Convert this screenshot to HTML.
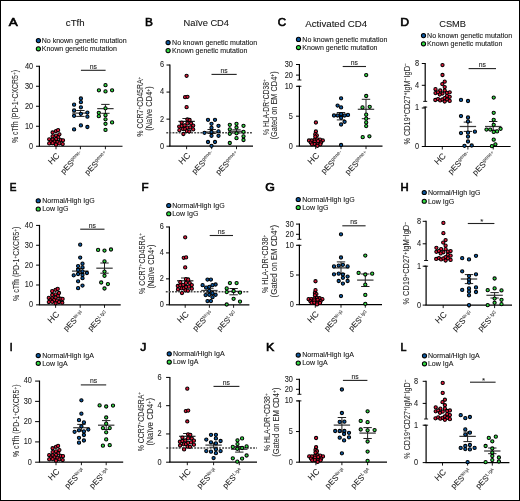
<!DOCTYPE html>
<html><head><meta charset="utf-8"><style>
html,body{margin:0;padding:0;background:#fff;}
svg{display:block;will-change:transform;font-family:"Liberation Sans", sans-serif;}
text{stroke:#222;stroke-width:0.08px;}
</style></head><body>
<svg width="520" height="501" viewBox="0 0 520 501">
<rect x="0" y="0" width="520" height="501" fill="#fff"/>
<text x="8.70" y="26.00" font-size="11.2" text-anchor="start" font-weight="normal" fill="#000" style="stroke:#000;stroke-width:0.6px" textLength="9.0" lengthAdjust="spacingAndGlyphs">A</text>
<text x="75.25" y="26.40" font-size="9.4" text-anchor="middle" font-weight="normal" fill="#111" textLength="18.8" lengthAdjust="spacingAndGlyphs">cTfh</text>
<circle cx="38.40" cy="40.60" r="2.1" fill="#0c58a0" stroke="#000" stroke-width="1.05"/>
<circle cx="38.40" cy="48.75" r="2.1" fill="#33dd44" stroke="#000" stroke-width="1.05"/>
<text x="41.70" y="42.90" font-size="7.05" text-anchor="start" font-weight="normal" fill="#111" >No known genetic mutation</text>
<text x="41.70" y="51.05" font-size="7.05" text-anchor="start" font-weight="normal" fill="#111" >Known genetic mutation</text>
<line x1="39.40" y1="65.75" x2="39.40" y2="146.25" stroke="#000" stroke-width="1.2" />
<line x1="38.80" y1="146.25" x2="122.50" y2="146.25" stroke="#000" stroke-width="1.2" />
<line x1="36.00" y1="66.25" x2="39.40" y2="66.25" stroke="#000" stroke-width="1.0" />
<text x="33.20" y="68.65" font-size="8.4" text-anchor="end" fill="#222" textLength="8.20" lengthAdjust="spacingAndGlyphs">40</text>
<line x1="36.00" y1="86.25" x2="39.40" y2="86.25" stroke="#000" stroke-width="1.0" />
<text x="33.20" y="88.65" font-size="8.4" text-anchor="end" fill="#222" textLength="8.20" lengthAdjust="spacingAndGlyphs">30</text>
<line x1="36.00" y1="106.25" x2="39.40" y2="106.25" stroke="#000" stroke-width="1.0" />
<text x="33.20" y="108.65" font-size="8.4" text-anchor="end" fill="#222" textLength="8.20" lengthAdjust="spacingAndGlyphs">20</text>
<line x1="36.00" y1="126.25" x2="39.40" y2="126.25" stroke="#000" stroke-width="1.0" />
<text x="33.20" y="128.65" font-size="8.4" text-anchor="end" fill="#222" textLength="8.20" lengthAdjust="spacingAndGlyphs">10</text>
<line x1="36.00" y1="146.25" x2="39.40" y2="146.25" stroke="#000" stroke-width="1.0" />
<text x="33.20" y="148.65" font-size="8.4" text-anchor="end" fill="#222" textLength="4.10" lengthAdjust="spacingAndGlyphs">0</text>
<line x1="56.00" y1="146.25" x2="56.00" y2="149.25" stroke="#000" stroke-width="0.9" />
<line x1="80.40" y1="146.25" x2="80.40" y2="149.25" stroke="#000" stroke-width="0.9" />
<line x1="105.40" y1="146.25" x2="105.40" y2="149.25" stroke="#000" stroke-width="0.9" />
<text transform="translate(60.20,156.25) rotate(-45)" font-size="8.6" text-anchor="end" fill="#222">HC</text>
<text transform="translate(83.40,154.75) rotate(-45)" font-size="8.0" text-anchor="end" fill="#222">pES<tspan font-size="5" dy="-3.2" fill="#555">gene-</tspan></text>
<text transform="translate(108.40,154.75) rotate(-45)" font-size="8.0" text-anchor="end" fill="#222">pES<tspan font-size="5" dy="-3.2" fill="#555">gene+</tspan></text>
<text transform="translate(18.30,106.50) rotate(-90)" font-size="8.8" text-anchor="middle" fill="#333" textLength="73.0" lengthAdjust="spacingAndGlyphs">% cTfh (PD-1<tspan font-size="6" dy="-2.6">+</tspan><tspan dy="2.6">CXCR5</tspan><tspan font-size="6" dy="-2.6">+</tspan><tspan dy="2.6">)</tspan></text>
<line x1="80.90" y1="70.30" x2="105.60" y2="70.30" stroke="#222" stroke-width="1.1" />
<text x="93.25" y="68.60" font-size="6.8" text-anchor="middle" font-weight="normal" fill="#222" >ns</text>
<circle cx="56.00" cy="131.10" r="1.62" fill="#e3193b" stroke="#000" stroke-width="1.05"/>
<circle cx="58.10" cy="130.20" r="1.62" fill="#e3193b" stroke="#000" stroke-width="1.05"/>
<circle cx="52.60" cy="132.50" r="1.62" fill="#e3193b" stroke="#000" stroke-width="1.05"/>
<circle cx="59.40" cy="134.30" r="1.62" fill="#e3193b" stroke="#000" stroke-width="1.05"/>
<circle cx="56.00" cy="135.60" r="1.62" fill="#e3193b" stroke="#000" stroke-width="1.05"/>
<circle cx="52.60" cy="136.30" r="1.62" fill="#e3193b" stroke="#000" stroke-width="1.05"/>
<circle cx="58.30" cy="137.40" r="1.62" fill="#e3193b" stroke="#000" stroke-width="1.05"/>
<circle cx="49.20" cy="139.30" r="1.62" fill="#e3193b" stroke="#000" stroke-width="1.05"/>
<circle cx="52.60" cy="139.60" r="1.62" fill="#e3193b" stroke="#000" stroke-width="1.05"/>
<circle cx="56.00" cy="139.00" r="1.62" fill="#e3193b" stroke="#000" stroke-width="1.05"/>
<circle cx="60.90" cy="140.10" r="1.62" fill="#e3193b" stroke="#000" stroke-width="1.05"/>
<circle cx="63.00" cy="140.30" r="1.62" fill="#e3193b" stroke="#000" stroke-width="1.05"/>
<circle cx="50.80" cy="141.60" r="1.62" fill="#e3193b" stroke="#000" stroke-width="1.05"/>
<circle cx="54.40" cy="141.50" r="1.62" fill="#e3193b" stroke="#000" stroke-width="1.05"/>
<circle cx="57.50" cy="142.00" r="1.62" fill="#e3193b" stroke="#000" stroke-width="1.05"/>
<circle cx="49.20" cy="143.40" r="1.62" fill="#e3193b" stroke="#000" stroke-width="1.05"/>
<circle cx="52.60" cy="143.20" r="1.62" fill="#e3193b" stroke="#000" stroke-width="1.05"/>
<circle cx="56.00" cy="144.70" r="1.62" fill="#e3193b" stroke="#000" stroke-width="1.05"/>
<circle cx="59.40" cy="143.40" r="1.62" fill="#e3193b" stroke="#000" stroke-width="1.05"/>
<circle cx="62.70" cy="144.10" r="1.62" fill="#e3193b" stroke="#000" stroke-width="1.05"/>
<line x1="72.20" y1="113.10" x2="88.60" y2="113.10" stroke="#3c3c3c" stroke-width="1.25" />
<line x1="76.20" y1="110.50" x2="84.60" y2="110.50" stroke="#222" stroke-width="1.0" />
<line x1="76.20" y1="116.40" x2="84.60" y2="116.40" stroke="#222" stroke-width="1.0" />
<line x1="80.40" y1="110.50" x2="80.40" y2="116.40" stroke="#222" stroke-width="1.0" />
<line x1="97.20" y1="108.60" x2="113.60" y2="108.60" stroke="#3c3c3c" stroke-width="1.25" />
<line x1="101.20" y1="104.40" x2="109.60" y2="104.40" stroke="#222" stroke-width="1.0" />
<line x1="101.20" y1="113.30" x2="109.60" y2="113.30" stroke="#222" stroke-width="1.0" />
<line x1="105.40" y1="104.40" x2="105.40" y2="113.30" stroke="#222" stroke-width="1.0" />
<circle cx="80.90" cy="98.50" r="1.62" fill="#0c58a0" stroke="#000" stroke-width="1.05"/>
<circle cx="80.90" cy="102.20" r="1.62" fill="#0c58a0" stroke="#000" stroke-width="1.05"/>
<circle cx="74.10" cy="104.70" r="1.62" fill="#0c58a0" stroke="#000" stroke-width="1.05"/>
<circle cx="80.90" cy="107.30" r="1.62" fill="#0c58a0" stroke="#000" stroke-width="1.05"/>
<circle cx="74.10" cy="110.50" r="1.62" fill="#0c58a0" stroke="#000" stroke-width="1.05"/>
<circle cx="80.90" cy="113.80" r="1.62" fill="#0c58a0" stroke="#000" stroke-width="1.05"/>
<circle cx="87.40" cy="112.60" r="1.62" fill="#0c58a0" stroke="#000" stroke-width="1.05"/>
<circle cx="74.10" cy="115.80" r="1.62" fill="#0c58a0" stroke="#000" stroke-width="1.05"/>
<circle cx="87.40" cy="116.70" r="1.62" fill="#0c58a0" stroke="#000" stroke-width="1.05"/>
<circle cx="80.90" cy="125.40" r="1.62" fill="#0c58a0" stroke="#000" stroke-width="1.05"/>
<circle cx="87.40" cy="127.00" r="1.62" fill="#0c58a0" stroke="#000" stroke-width="1.05"/>
<circle cx="74.10" cy="129.40" r="1.62" fill="#0c58a0" stroke="#000" stroke-width="1.05"/>
<circle cx="105.50" cy="85.20" r="1.62" fill="#33dd44" stroke="#000" stroke-width="1.05"/>
<circle cx="98.90" cy="90.30" r="1.62" fill="#33dd44" stroke="#000" stroke-width="1.05"/>
<circle cx="105.50" cy="91.40" r="1.62" fill="#33dd44" stroke="#000" stroke-width="1.05"/>
<circle cx="112.10" cy="90.30" r="1.62" fill="#33dd44" stroke="#000" stroke-width="1.05"/>
<circle cx="105.50" cy="108.30" r="1.62" fill="#33dd44" stroke="#000" stroke-width="1.05"/>
<circle cx="98.80" cy="112.80" r="1.62" fill="#33dd44" stroke="#000" stroke-width="1.05"/>
<circle cx="105.50" cy="115.20" r="1.62" fill="#33dd44" stroke="#000" stroke-width="1.05"/>
<circle cx="98.80" cy="116.20" r="1.62" fill="#33dd44" stroke="#000" stroke-width="1.05"/>
<circle cx="105.50" cy="119.30" r="1.62" fill="#33dd44" stroke="#000" stroke-width="1.05"/>
<circle cx="112.10" cy="122.40" r="1.62" fill="#33dd44" stroke="#000" stroke-width="1.05"/>
<circle cx="105.50" cy="123.80" r="1.62" fill="#33dd44" stroke="#000" stroke-width="1.05"/>
<circle cx="105.50" cy="129.90" r="1.62" fill="#33dd44" stroke="#000" stroke-width="1.05"/>
<text x="144.95" y="26.00" font-size="11.2" text-anchor="start" font-weight="normal" fill="#000" style="stroke:#000;stroke-width:0.6px" textLength="7.9" lengthAdjust="spacingAndGlyphs">B</text>
<text x="206.25" y="26.25" font-size="9.4" text-anchor="middle" font-weight="normal" fill="#111" textLength="45.5" lengthAdjust="spacingAndGlyphs">Na&#239;ve CD4</text>
<circle cx="168.10" cy="42.50" r="2.1" fill="#0c58a0" stroke="#000" stroke-width="1.05"/>
<circle cx="168.10" cy="50.60" r="2.1" fill="#33dd44" stroke="#000" stroke-width="1.05"/>
<text x="172.10" y="44.80" font-size="7.05" text-anchor="start" font-weight="normal" fill="#111" >No known genetic mutation</text>
<text x="172.10" y="52.90" font-size="7.05" text-anchor="start" font-weight="normal" fill="#111" >Known genetic mutation</text>
<line x1="169.90" y1="64.50" x2="169.90" y2="146.20" stroke="#000" stroke-width="1.2" />
<line x1="169.30" y1="146.20" x2="253.00" y2="146.20" stroke="#000" stroke-width="1.2" />
<line x1="166.50" y1="65.02" x2="169.90" y2="65.02" stroke="#000" stroke-width="1.0" />
<text x="164.20" y="67.42" font-size="8.4" text-anchor="end" fill="#222" textLength="4.10" lengthAdjust="spacingAndGlyphs">6</text>
<line x1="166.50" y1="92.08" x2="169.90" y2="92.08" stroke="#000" stroke-width="1.0" />
<text x="164.20" y="94.48" font-size="8.4" text-anchor="end" fill="#222" textLength="4.10" lengthAdjust="spacingAndGlyphs">4</text>
<line x1="166.50" y1="119.14" x2="169.90" y2="119.14" stroke="#000" stroke-width="1.0" />
<text x="164.20" y="121.54" font-size="8.4" text-anchor="end" fill="#222" textLength="4.10" lengthAdjust="spacingAndGlyphs">2</text>
<line x1="166.50" y1="146.20" x2="169.90" y2="146.20" stroke="#000" stroke-width="1.0" />
<text x="164.20" y="148.60" font-size="8.4" text-anchor="end" fill="#222" textLength="4.10" lengthAdjust="spacingAndGlyphs">0</text>
<line x1="186.60" y1="146.20" x2="186.60" y2="149.20" stroke="#000" stroke-width="0.9" />
<line x1="211.70" y1="146.20" x2="211.70" y2="149.20" stroke="#000" stroke-width="0.9" />
<line x1="236.50" y1="146.20" x2="236.50" y2="149.20" stroke="#000" stroke-width="0.9" />
<text transform="translate(190.80,156.20) rotate(-45)" font-size="8.6" text-anchor="end" fill="#222">HC</text>
<text transform="translate(214.70,154.70) rotate(-45)" font-size="8.0" text-anchor="end" fill="#222">pES<tspan font-size="5" dy="-3.2" fill="#555">gene-</tspan></text>
<text transform="translate(239.50,154.70) rotate(-45)" font-size="8.0" text-anchor="end" fill="#222">pES<tspan font-size="5" dy="-3.2" fill="#555">gene+</tspan></text>
<text transform="translate(143.10,106.65) rotate(-90)" font-size="8.8" text-anchor="middle" fill="#333" textLength="60.1" lengthAdjust="spacingAndGlyphs">% CCR7<tspan font-size="6" dy="-2.6">+</tspan><tspan dy="2.6">CD45RA</tspan><tspan font-size="6" dy="-2.6">+</tspan><tspan dy="2.6"></tspan></text>
<text transform="translate(152.30,108.50) rotate(-90)" font-size="8.8" text-anchor="middle" fill="#333" textLength="44.6" lengthAdjust="spacingAndGlyphs">(Na&#239;ve CD4<tspan font-size="6" dy="-2.6">+</tspan><tspan dy="2.6">)</tspan></text>
<line x1="166.30" y1="132.67" x2="253.00" y2="132.67" stroke="#4a4a4a" stroke-width="1.5" stroke-dasharray="1.9,1.2"/>
<line x1="211.50" y1="74.40" x2="236.70" y2="74.40" stroke="#222" stroke-width="1.1" />
<text x="224.10" y="72.70" font-size="6.8" text-anchor="middle" font-weight="normal" fill="#222" >ns</text>
<line x1="178.40" y1="121.40" x2="194.80" y2="121.40" stroke="#222" stroke-width="1.2" />
<line x1="182.40" y1="118.50" x2="190.80" y2="118.50" stroke="#222" stroke-width="1.0" />
<line x1="186.60" y1="118.50" x2="186.60" y2="124.50" stroke="#222" stroke-width="1.0" />
<circle cx="186.60" cy="75.80" r="1.62" fill="#e3193b" stroke="#000" stroke-width="1.05"/>
<circle cx="185.10" cy="97.20" r="1.62" fill="#e3193b" stroke="#000" stroke-width="1.05"/>
<circle cx="187.50" cy="96.80" r="1.62" fill="#e3193b" stroke="#000" stroke-width="1.05"/>
<circle cx="186.60" cy="107.20" r="1.62" fill="#e3193b" stroke="#000" stroke-width="1.05"/>
<circle cx="187.40" cy="119.50" r="1.62" fill="#e3193b" stroke="#000" stroke-width="1.05"/>
<circle cx="189.60" cy="120.00" r="1.62" fill="#e3193b" stroke="#000" stroke-width="1.05"/>
<circle cx="181.70" cy="122.60" r="1.62" fill="#e3193b" stroke="#000" stroke-width="1.05"/>
<circle cx="187.40" cy="123.40" r="1.62" fill="#e3193b" stroke="#000" stroke-width="1.05"/>
<circle cx="191.10" cy="123.50" r="1.62" fill="#e3193b" stroke="#000" stroke-width="1.05"/>
<circle cx="179.20" cy="126.60" r="1.62" fill="#e3193b" stroke="#000" stroke-width="1.05"/>
<circle cx="181.70" cy="125.90" r="1.62" fill="#e3193b" stroke="#000" stroke-width="1.05"/>
<circle cx="184.60" cy="125.40" r="1.62" fill="#e3193b" stroke="#000" stroke-width="1.05"/>
<circle cx="193.20" cy="125.60" r="1.62" fill="#e3193b" stroke="#000" stroke-width="1.05"/>
<circle cx="183.10" cy="129.10" r="1.62" fill="#e3193b" stroke="#000" stroke-width="1.05"/>
<circle cx="185.20" cy="128.90" r="1.62" fill="#e3193b" stroke="#000" stroke-width="1.05"/>
<circle cx="187.50" cy="127.60" r="1.62" fill="#e3193b" stroke="#000" stroke-width="1.05"/>
<circle cx="190.30" cy="127.30" r="1.62" fill="#e3193b" stroke="#000" stroke-width="1.05"/>
<circle cx="179.40" cy="130.20" r="1.62" fill="#e3193b" stroke="#000" stroke-width="1.05"/>
<circle cx="193.20" cy="129.40" r="1.62" fill="#e3193b" stroke="#000" stroke-width="1.05"/>
<circle cx="186.90" cy="131.20" r="1.62" fill="#e3193b" stroke="#000" stroke-width="1.05"/>
<circle cx="189.30" cy="131.50" r="1.62" fill="#e3193b" stroke="#000" stroke-width="1.05"/>
<circle cx="183.40" cy="134.00" r="1.62" fill="#e3193b" stroke="#000" stroke-width="1.05"/>
<line x1="203.50" y1="132.00" x2="219.90" y2="132.00" stroke="#3c3c3c" stroke-width="1.25" />
<line x1="207.50" y1="129.50" x2="215.90" y2="129.50" stroke="#222" stroke-width="1.0" />
<line x1="207.50" y1="133.50" x2="215.90" y2="133.50" stroke="#222" stroke-width="1.0" />
<line x1="211.70" y1="129.50" x2="211.70" y2="133.50" stroke="#222" stroke-width="1.0" />
<line x1="228.30" y1="131.30" x2="244.70" y2="131.30" stroke="#3c3c3c" stroke-width="1.25" />
<line x1="232.30" y1="129.80" x2="240.70" y2="129.80" stroke="#222" stroke-width="1.0" />
<line x1="232.30" y1="133.00" x2="240.70" y2="133.00" stroke="#222" stroke-width="1.0" />
<line x1="236.50" y1="129.80" x2="236.50" y2="133.00" stroke="#222" stroke-width="1.0" />
<circle cx="208.00" cy="119.80" r="1.62" fill="#0c58a0" stroke="#000" stroke-width="1.05"/>
<circle cx="215.00" cy="119.80" r="1.62" fill="#0c58a0" stroke="#000" stroke-width="1.05"/>
<circle cx="211.50" cy="123.80" r="1.62" fill="#0c58a0" stroke="#000" stroke-width="1.05"/>
<circle cx="218.50" cy="125.80" r="1.62" fill="#0c58a0" stroke="#000" stroke-width="1.05"/>
<circle cx="211.50" cy="127.80" r="1.62" fill="#0c58a0" stroke="#000" stroke-width="1.05"/>
<circle cx="211.50" cy="132.00" r="1.62" fill="#0c58a0" stroke="#000" stroke-width="1.05"/>
<circle cx="204.50" cy="132.80" r="1.62" fill="#0c58a0" stroke="#000" stroke-width="1.05"/>
<circle cx="218.50" cy="131.30" r="1.62" fill="#0c58a0" stroke="#000" stroke-width="1.05"/>
<circle cx="211.50" cy="135.80" r="1.62" fill="#0c58a0" stroke="#000" stroke-width="1.05"/>
<circle cx="218.50" cy="135.80" r="1.62" fill="#0c58a0" stroke="#000" stroke-width="1.05"/>
<circle cx="208.00" cy="142.00" r="1.62" fill="#0c58a0" stroke="#000" stroke-width="1.05"/>
<circle cx="215.00" cy="142.00" r="1.62" fill="#0c58a0" stroke="#000" stroke-width="1.05"/>
<circle cx="211.50" cy="145.80" r="1.62" fill="#0c58a0" stroke="#000" stroke-width="1.05"/>
<circle cx="229.80" cy="124.80" r="1.62" fill="#33dd44" stroke="#000" stroke-width="1.05"/>
<circle cx="236.50" cy="123.80" r="1.62" fill="#33dd44" stroke="#000" stroke-width="1.05"/>
<circle cx="243.50" cy="125.80" r="1.62" fill="#33dd44" stroke="#000" stroke-width="1.05"/>
<circle cx="236.50" cy="127.50" r="1.62" fill="#33dd44" stroke="#000" stroke-width="1.05"/>
<circle cx="229.80" cy="129.30" r="1.62" fill="#33dd44" stroke="#000" stroke-width="1.05"/>
<circle cx="243.50" cy="131.80" r="1.62" fill="#33dd44" stroke="#000" stroke-width="1.05"/>
<circle cx="229.80" cy="133.80" r="1.62" fill="#33dd44" stroke="#000" stroke-width="1.05"/>
<circle cx="236.50" cy="133.30" r="1.62" fill="#33dd44" stroke="#000" stroke-width="1.05"/>
<circle cx="243.50" cy="136.30" r="1.62" fill="#33dd44" stroke="#000" stroke-width="1.05"/>
<circle cx="236.50" cy="138.20" r="1.62" fill="#33dd44" stroke="#000" stroke-width="1.05"/>
<circle cx="243.50" cy="140.00" r="1.62" fill="#33dd44" stroke="#000" stroke-width="1.05"/>
<circle cx="229.80" cy="143.00" r="1.62" fill="#33dd44" stroke="#000" stroke-width="1.05"/>
<text x="277.80" y="26.00" font-size="11.2" text-anchor="start" font-weight="normal" fill="#000" style="stroke:#000;stroke-width:0.6px" textLength="8.4" lengthAdjust="spacingAndGlyphs">C</text>
<text x="336.25" y="26.50" font-size="9.4" text-anchor="middle" font-weight="normal" fill="#111" textLength="62" lengthAdjust="spacingAndGlyphs">Activated CD4</text>
<circle cx="298.50" cy="39.40" r="2.1" fill="#0c58a0" stroke="#000" stroke-width="1.05"/>
<circle cx="298.50" cy="47.50" r="2.1" fill="#33dd44" stroke="#000" stroke-width="1.05"/>
<text x="302.30" y="41.70" font-size="7.05" text-anchor="start" font-weight="normal" fill="#111" >No known genetic mutation</text>
<text x="302.30" y="49.80" font-size="7.05" text-anchor="start" font-weight="normal" fill="#111" >Known genetic mutation</text>
<line x1="299.40" y1="64.10" x2="299.40" y2="80.00" stroke="#000" stroke-width="1.2" />
<line x1="299.40" y1="85.80" x2="299.40" y2="146.10" stroke="#000" stroke-width="1.2" />
<line x1="298.80" y1="146.10" x2="382.50" y2="146.10" stroke="#000" stroke-width="1.2" />
<line x1="296.00" y1="64.50" x2="299.40" y2="64.50" stroke="#000" stroke-width="1.0" />
<text x="292.90" y="66.90" font-size="8.4" text-anchor="end" fill="#222" textLength="8.20" lengthAdjust="spacingAndGlyphs">30</text>
<line x1="296.00" y1="75.10" x2="299.40" y2="75.10" stroke="#000" stroke-width="1.0" />
<text x="292.90" y="77.50" font-size="8.4" text-anchor="end" fill="#222" textLength="8.20" lengthAdjust="spacingAndGlyphs">20</text>
<line x1="296.00" y1="86.30" x2="299.40" y2="86.30" stroke="#000" stroke-width="1.0" />
<text x="292.90" y="88.70" font-size="8.4" text-anchor="end" fill="#222" textLength="8.20" lengthAdjust="spacingAndGlyphs">10</text>
<line x1="296.00" y1="116.20" x2="299.40" y2="116.20" stroke="#000" stroke-width="1.0" />
<text x="292.90" y="118.60" font-size="8.4" text-anchor="end" fill="#222" textLength="4.10" lengthAdjust="spacingAndGlyphs">5</text>
<line x1="296.00" y1="146.10" x2="299.40" y2="146.10" stroke="#000" stroke-width="1.0" />
<text x="292.90" y="148.50" font-size="8.4" text-anchor="end" fill="#222" textLength="4.10" lengthAdjust="spacingAndGlyphs">0</text>
<line x1="297.40" y1="80.00" x2="301.40" y2="80.00" stroke="#000" stroke-width="0.9" />
<line x1="297.40" y1="86.30" x2="301.40" y2="86.30" stroke="#000" stroke-width="0.9" />
<line x1="315.70" y1="146.10" x2="315.70" y2="149.10" stroke="#000" stroke-width="0.9" />
<line x1="341.00" y1="146.10" x2="341.00" y2="149.10" stroke="#000" stroke-width="0.9" />
<line x1="366.00" y1="146.10" x2="366.00" y2="149.10" stroke="#000" stroke-width="0.9" />
<text transform="translate(319.90,156.10) rotate(-45)" font-size="8.6" text-anchor="end" fill="#222">HC</text>
<text transform="translate(344.00,154.60) rotate(-45)" font-size="8.0" text-anchor="end" fill="#222">pES<tspan font-size="5" dy="-3.2" fill="#555">gene-</tspan></text>
<text transform="translate(369.00,154.60) rotate(-45)" font-size="8.0" text-anchor="end" fill="#222">pES<tspan font-size="5" dy="-3.2" fill="#555">gene+</tspan></text>
<text transform="translate(268.60,107.15) rotate(-90)" font-size="8.8" text-anchor="middle" fill="#333" textLength="55.5" lengthAdjust="spacingAndGlyphs">% HLA-DR<tspan font-size="6" dy="-2.6">+</tspan><tspan dy="2.6">CD38</tspan><tspan font-size="6" dy="-2.6">+</tspan><tspan dy="2.6"></tspan></text>
<text transform="translate(276.90,105.35) rotate(-90)" font-size="8.8" text-anchor="middle" fill="#333" textLength="68.1" lengthAdjust="spacingAndGlyphs">(Gated on EM CD4<tspan font-size="6" dy="-2.6">+</tspan><tspan dy="2.6">)</tspan></text>
<line x1="342.70" y1="66.50" x2="366.00" y2="66.50" stroke="#222" stroke-width="1.1" />
<text x="354.35" y="64.80" font-size="6.8" text-anchor="middle" font-weight="normal" fill="#222" >ns</text>
<circle cx="315.90" cy="122.50" r="1.62" fill="#e3193b" stroke="#000" stroke-width="1.05"/>
<circle cx="315.90" cy="131.50" r="1.62" fill="#e3193b" stroke="#000" stroke-width="1.05"/>
<circle cx="315.30" cy="134.20" r="1.62" fill="#e3193b" stroke="#000" stroke-width="1.05"/>
<circle cx="316.80" cy="135.40" r="1.62" fill="#e3193b" stroke="#000" stroke-width="1.05"/>
<circle cx="315.30" cy="136.70" r="1.62" fill="#e3193b" stroke="#000" stroke-width="1.05"/>
<circle cx="309.00" cy="140.50" r="1.62" fill="#e3193b" stroke="#000" stroke-width="1.05"/>
<circle cx="311.70" cy="140.50" r="1.62" fill="#e3193b" stroke="#000" stroke-width="1.05"/>
<circle cx="314.70" cy="139.90" r="1.62" fill="#e3193b" stroke="#000" stroke-width="1.05"/>
<circle cx="317.40" cy="139.30" r="1.62" fill="#e3193b" stroke="#000" stroke-width="1.05"/>
<circle cx="320.00" cy="139.60" r="1.62" fill="#e3193b" stroke="#000" stroke-width="1.05"/>
<circle cx="322.80" cy="140.50" r="1.62" fill="#e3193b" stroke="#000" stroke-width="1.05"/>
<circle cx="310.80" cy="142.60" r="1.62" fill="#e3193b" stroke="#000" stroke-width="1.05"/>
<circle cx="314.70" cy="141.70" r="1.62" fill="#e3193b" stroke="#000" stroke-width="1.05"/>
<circle cx="318.00" cy="141.10" r="1.62" fill="#e3193b" stroke="#000" stroke-width="1.05"/>
<circle cx="321.00" cy="142.60" r="1.62" fill="#e3193b" stroke="#000" stroke-width="1.05"/>
<circle cx="312.00" cy="144.30" r="1.62" fill="#e3193b" stroke="#000" stroke-width="1.05"/>
<circle cx="314.70" cy="144.00" r="1.62" fill="#e3193b" stroke="#000" stroke-width="1.05"/>
<circle cx="317.70" cy="144.30" r="1.62" fill="#e3193b" stroke="#000" stroke-width="1.05"/>
<circle cx="320.40" cy="144.30" r="1.62" fill="#e3193b" stroke="#000" stroke-width="1.05"/>
<circle cx="317.40" cy="145.80" r="1.62" fill="#e3193b" stroke="#000" stroke-width="1.05"/>
<line x1="332.80" y1="116.00" x2="349.20" y2="116.00" stroke="#3c3c3c" stroke-width="1.25" />
<line x1="336.80" y1="112.50" x2="345.20" y2="112.50" stroke="#222" stroke-width="1.0" />
<line x1="336.80" y1="119.90" x2="345.20" y2="119.90" stroke="#222" stroke-width="1.0" />
<line x1="341.00" y1="112.50" x2="341.00" y2="119.90" stroke="#222" stroke-width="1.0" />
<line x1="357.80" y1="109.30" x2="374.20" y2="109.30" stroke="#3c3c3c" stroke-width="1.25" />
<line x1="361.80" y1="99.30" x2="370.20" y2="99.30" stroke="#222" stroke-width="1.0" />
<line x1="361.80" y1="118.70" x2="370.20" y2="118.70" stroke="#222" stroke-width="1.0" />
<line x1="366.00" y1="99.30" x2="366.00" y2="118.70" stroke="#222" stroke-width="1.0" />
<circle cx="341.10" cy="98.30" r="1.62" fill="#0c58a0" stroke="#000" stroke-width="1.05"/>
<circle cx="337.60" cy="105.60" r="1.62" fill="#0c58a0" stroke="#000" stroke-width="1.05"/>
<circle cx="341.10" cy="107.40" r="1.62" fill="#0c58a0" stroke="#000" stroke-width="1.05"/>
<circle cx="341.10" cy="116.00" r="1.62" fill="#0c58a0" stroke="#000" stroke-width="1.05"/>
<circle cx="334.00" cy="115.50" r="1.62" fill="#0c58a0" stroke="#000" stroke-width="1.05"/>
<circle cx="337.60" cy="115.50" r="1.62" fill="#0c58a0" stroke="#000" stroke-width="1.05"/>
<circle cx="341.10" cy="114.10" r="1.62" fill="#0c58a0" stroke="#000" stroke-width="1.05"/>
<circle cx="344.60" cy="115.50" r="1.62" fill="#0c58a0" stroke="#000" stroke-width="1.05"/>
<circle cx="348.00" cy="114.90" r="1.62" fill="#0c58a0" stroke="#000" stroke-width="1.05"/>
<circle cx="341.10" cy="117.80" r="1.62" fill="#0c58a0" stroke="#000" stroke-width="1.05"/>
<circle cx="344.60" cy="121.80" r="1.62" fill="#0c58a0" stroke="#000" stroke-width="1.05"/>
<circle cx="341.10" cy="124.50" r="1.62" fill="#0c58a0" stroke="#000" stroke-width="1.05"/>
<circle cx="341.10" cy="145.00" r="1.62" fill="#0c58a0" stroke="#000" stroke-width="1.05"/>
<circle cx="366.20" cy="75.10" r="1.62" fill="#33dd44" stroke="#000" stroke-width="1.05"/>
<circle cx="366.20" cy="96.00" r="1.62" fill="#33dd44" stroke="#000" stroke-width="1.05"/>
<circle cx="362.50" cy="107.40" r="1.62" fill="#33dd44" stroke="#000" stroke-width="1.05"/>
<circle cx="369.70" cy="106.80" r="1.62" fill="#33dd44" stroke="#000" stroke-width="1.05"/>
<circle cx="366.20" cy="114.70" r="1.62" fill="#33dd44" stroke="#000" stroke-width="1.05"/>
<circle cx="366.20" cy="118.70" r="1.62" fill="#33dd44" stroke="#000" stroke-width="1.05"/>
<circle cx="366.20" cy="122.40" r="1.62" fill="#33dd44" stroke="#000" stroke-width="1.05"/>
<circle cx="366.20" cy="126.10" r="1.62" fill="#33dd44" stroke="#000" stroke-width="1.05"/>
<circle cx="362.70" cy="137.20" r="1.62" fill="#33dd44" stroke="#000" stroke-width="1.05"/>
<circle cx="369.40" cy="136.30" r="1.62" fill="#33dd44" stroke="#000" stroke-width="1.05"/>
<text x="400.30" y="26.00" font-size="11.2" text-anchor="start" font-weight="normal" fill="#000" style="stroke:#000;stroke-width:0.6px" textLength="8.8" lengthAdjust="spacingAndGlyphs">D</text>
<text x="452.60" y="26.60" font-size="9.4" text-anchor="middle" font-weight="normal" fill="#111" textLength="26.8" lengthAdjust="spacingAndGlyphs">CSMB</text>
<circle cx="423.50" cy="35.60" r="2.1" fill="#0c58a0" stroke="#000" stroke-width="1.05"/>
<circle cx="423.50" cy="43.75" r="2.1" fill="#33dd44" stroke="#000" stroke-width="1.05"/>
<text x="427.10" y="37.90" font-size="7.05" text-anchor="start" font-weight="normal" fill="#111" >No known genetic mutation</text>
<text x="427.10" y="46.05" font-size="7.05" text-anchor="start" font-weight="normal" fill="#111" >Known genetic mutation</text>
<line x1="425.20" y1="63.00" x2="425.20" y2="101.40" stroke="#000" stroke-width="1.2" />
<line x1="425.20" y1="106.60" x2="425.20" y2="146.50" stroke="#000" stroke-width="1.2" />
<line x1="424.60" y1="146.50" x2="510.60" y2="146.50" stroke="#000" stroke-width="1.2" />
<line x1="421.80" y1="63.50" x2="425.20" y2="63.50" stroke="#000" stroke-width="1.0" />
<text x="419.20" y="65.90" font-size="8.4" text-anchor="end" fill="#222" textLength="4.10" lengthAdjust="spacingAndGlyphs">8</text>
<line x1="421.80" y1="85.30" x2="425.20" y2="85.30" stroke="#000" stroke-width="1.0" />
<text x="419.20" y="87.70" font-size="8.4" text-anchor="end" fill="#222" textLength="4.10" lengthAdjust="spacingAndGlyphs">4</text>
<line x1="421.80" y1="108.00" x2="425.20" y2="108.00" stroke="#000" stroke-width="1.0" />
<text x="419.20" y="110.40" font-size="8.4" text-anchor="end" fill="#222" textLength="4.10" lengthAdjust="spacingAndGlyphs">1</text>
<line x1="421.80" y1="146.50" x2="425.20" y2="146.50" stroke="#000" stroke-width="1.0" />
<text x="419.20" y="148.90" font-size="8.4" text-anchor="end" fill="#222" textLength="4.10" lengthAdjust="spacingAndGlyphs">0</text>
<line x1="423.20" y1="101.40" x2="427.20" y2="101.40" stroke="#000" stroke-width="0.9" />
<line x1="423.20" y1="107.10" x2="427.20" y2="107.10" stroke="#000" stroke-width="0.9" />
<line x1="442.30" y1="146.50" x2="442.30" y2="149.50" stroke="#000" stroke-width="0.9" />
<line x1="467.90" y1="146.50" x2="467.90" y2="149.50" stroke="#000" stroke-width="0.9" />
<line x1="493.20" y1="146.50" x2="493.20" y2="149.50" stroke="#000" stroke-width="0.9" />
<text transform="translate(446.50,156.50) rotate(-45)" font-size="8.6" text-anchor="end" fill="#222">HC</text>
<text transform="translate(470.90,155.00) rotate(-45)" font-size="8.0" text-anchor="end" fill="#222">pES<tspan font-size="5" dy="-3.2" fill="#555">gene-</tspan></text>
<text transform="translate(496.20,155.00) rotate(-45)" font-size="8.0" text-anchor="end" fill="#222">pES<tspan font-size="5" dy="-3.2" fill="#555">gene+</tspan></text>
<text transform="translate(409.80,103.85) rotate(-90)" font-size="8.8" text-anchor="middle" fill="#333" textLength="81.5" lengthAdjust="spacingAndGlyphs">% CD19<tspan font-size="6" dy="-2.6">+</tspan><tspan dy="2.6">CD27</tspan><tspan font-size="6" dy="-2.6">+</tspan><tspan dy="2.6">IgM</tspan><tspan font-size="6" dy="-2.6">&#8722;</tspan><tspan dy="2.6">IgD</tspan><tspan font-size="6" dy="-2.6">&#8722;</tspan><tspan dy="2.6"></tspan></text>
<line x1="468.60" y1="68.60" x2="496.00" y2="68.60" stroke="#222" stroke-width="1.1" />
<text x="482.30" y="66.90" font-size="6.8" text-anchor="middle" font-weight="normal" fill="#222" >ns</text>
<circle cx="442.50" cy="65.10" r="1.62" fill="#e3193b" stroke="#000" stroke-width="1.05"/>
<circle cx="442.50" cy="75.00" r="1.62" fill="#e3193b" stroke="#000" stroke-width="1.05"/>
<circle cx="444.70" cy="81.70" r="1.62" fill="#e3193b" stroke="#000" stroke-width="1.05"/>
<circle cx="442.30" cy="84.10" r="1.62" fill="#e3193b" stroke="#000" stroke-width="1.05"/>
<circle cx="444.70" cy="87.10" r="1.62" fill="#e3193b" stroke="#000" stroke-width="1.05"/>
<circle cx="435.50" cy="89.20" r="1.62" fill="#e3193b" stroke="#000" stroke-width="1.05"/>
<circle cx="440.20" cy="90.50" r="1.62" fill="#e3193b" stroke="#000" stroke-width="1.05"/>
<circle cx="444.70" cy="90.50" r="1.62" fill="#e3193b" stroke="#000" stroke-width="1.05"/>
<circle cx="435.50" cy="93.10" r="1.62" fill="#e3193b" stroke="#000" stroke-width="1.05"/>
<circle cx="438.00" cy="92.30" r="1.62" fill="#e3193b" stroke="#000" stroke-width="1.05"/>
<circle cx="442.50" cy="93.50" r="1.62" fill="#e3193b" stroke="#000" stroke-width="1.05"/>
<circle cx="447.00" cy="92.80" r="1.62" fill="#e3193b" stroke="#000" stroke-width="1.05"/>
<circle cx="449.70" cy="92.30" r="1.62" fill="#e3193b" stroke="#000" stroke-width="1.05"/>
<circle cx="439.80" cy="94.60" r="1.62" fill="#e3193b" stroke="#000" stroke-width="1.05"/>
<circle cx="447.00" cy="95.90" r="1.62" fill="#e3193b" stroke="#000" stroke-width="1.05"/>
<circle cx="449.70" cy="96.80" r="1.62" fill="#e3193b" stroke="#000" stroke-width="1.05"/>
<circle cx="435.30" cy="100.00" r="1.62" fill="#e3193b" stroke="#000" stroke-width="1.05"/>
<circle cx="438.00" cy="99.10" r="1.62" fill="#e3193b" stroke="#000" stroke-width="1.05"/>
<circle cx="440.20" cy="100.40" r="1.62" fill="#e3193b" stroke="#000" stroke-width="1.05"/>
<circle cx="442.50" cy="99.50" r="1.62" fill="#e3193b" stroke="#000" stroke-width="1.05"/>
<circle cx="444.70" cy="98.20" r="1.62" fill="#e3193b" stroke="#000" stroke-width="1.05"/>
<circle cx="447.00" cy="99.50" r="1.62" fill="#e3193b" stroke="#000" stroke-width="1.05"/>
<circle cx="444.70" cy="101.50" r="1.62" fill="#e3193b" stroke="#000" stroke-width="1.05"/>
<circle cx="449.70" cy="100.90" r="1.62" fill="#e3193b" stroke="#000" stroke-width="1.05"/>
<line x1="459.70" y1="126.50" x2="476.10" y2="126.50" stroke="#3c3c3c" stroke-width="1.25" />
<line x1="463.70" y1="122.10" x2="472.10" y2="122.10" stroke="#222" stroke-width="1.0" />
<line x1="463.70" y1="131.40" x2="472.10" y2="131.40" stroke="#222" stroke-width="1.0" />
<line x1="467.90" y1="122.10" x2="467.90" y2="131.40" stroke="#222" stroke-width="1.0" />
<line x1="485.00" y1="126.50" x2="501.40" y2="126.50" stroke="#3c3c3c" stroke-width="1.25" />
<line x1="489.00" y1="121.50" x2="497.40" y2="121.50" stroke="#222" stroke-width="1.0" />
<line x1="489.00" y1="130.20" x2="497.40" y2="130.20" stroke="#222" stroke-width="1.0" />
<line x1="493.20" y1="121.50" x2="493.20" y2="130.20" stroke="#222" stroke-width="1.0" />
<circle cx="461.00" cy="99.90" r="1.62" fill="#0c58a0" stroke="#000" stroke-width="1.05"/>
<circle cx="468.00" cy="101.00" r="1.62" fill="#0c58a0" stroke="#000" stroke-width="1.05"/>
<circle cx="461.00" cy="116.10" r="1.62" fill="#0c58a0" stroke="#000" stroke-width="1.05"/>
<circle cx="468.00" cy="117.50" r="1.62" fill="#0c58a0" stroke="#000" stroke-width="1.05"/>
<circle cx="468.00" cy="121.50" r="1.62" fill="#0c58a0" stroke="#000" stroke-width="1.05"/>
<circle cx="461.00" cy="133.10" r="1.62" fill="#0c58a0" stroke="#000" stroke-width="1.05"/>
<circle cx="468.00" cy="132.70" r="1.62" fill="#0c58a0" stroke="#000" stroke-width="1.05"/>
<circle cx="474.90" cy="131.70" r="1.62" fill="#0c58a0" stroke="#000" stroke-width="1.05"/>
<circle cx="468.00" cy="136.60" r="1.62" fill="#0c58a0" stroke="#000" stroke-width="1.05"/>
<circle cx="468.00" cy="141.50" r="1.62" fill="#0c58a0" stroke="#000" stroke-width="1.05"/>
<circle cx="464.50" cy="145.80" r="1.62" fill="#0c58a0" stroke="#000" stroke-width="1.05"/>
<circle cx="471.70" cy="145.50" r="1.62" fill="#0c58a0" stroke="#000" stroke-width="1.05"/>
<circle cx="493.70" cy="97.60" r="1.62" fill="#33dd44" stroke="#000" stroke-width="1.05"/>
<circle cx="493.70" cy="112.80" r="1.62" fill="#33dd44" stroke="#000" stroke-width="1.05"/>
<circle cx="493.70" cy="119.80" r="1.62" fill="#33dd44" stroke="#000" stroke-width="1.05"/>
<circle cx="493.70" cy="124.80" r="1.62" fill="#33dd44" stroke="#000" stroke-width="1.05"/>
<circle cx="486.50" cy="129.60" r="1.62" fill="#33dd44" stroke="#000" stroke-width="1.05"/>
<circle cx="490.20" cy="129.60" r="1.62" fill="#33dd44" stroke="#000" stroke-width="1.05"/>
<circle cx="493.70" cy="131.90" r="1.62" fill="#33dd44" stroke="#000" stroke-width="1.05"/>
<circle cx="497.10" cy="131.40" r="1.62" fill="#33dd44" stroke="#000" stroke-width="1.05"/>
<circle cx="500.60" cy="128.80" r="1.62" fill="#33dd44" stroke="#000" stroke-width="1.05"/>
<circle cx="493.70" cy="139.70" r="1.62" fill="#33dd44" stroke="#000" stroke-width="1.05"/>
<circle cx="495.40" cy="144.30" r="1.62" fill="#33dd44" stroke="#000" stroke-width="1.05"/>
<circle cx="491.90" cy="146.20" r="1.62" fill="#33dd44" stroke="#000" stroke-width="1.05"/>
<text x="9.70" y="190.75" font-size="11.2" text-anchor="start" font-weight="normal" fill="#000" style="stroke:#000;stroke-width:0.6px" textLength="6.7" lengthAdjust="spacingAndGlyphs">E</text>
<circle cx="38.25" cy="200.75" r="2.1" fill="#0c58a0" stroke="#000" stroke-width="1.05"/>
<circle cx="38.25" cy="209.00" r="2.1" fill="#33dd44" stroke="#000" stroke-width="1.05"/>
<text x="42.20" y="203.05" font-size="7.05" text-anchor="start" font-weight="normal" fill="#111" >Normal/High IgG</text>
<text x="42.20" y="211.30" font-size="7.05" text-anchor="start" font-weight="normal" fill="#111" >Low IgG</text>
<line x1="39.50" y1="224.90" x2="39.50" y2="304.85" stroke="#000" stroke-width="1.2" />
<line x1="38.90" y1="304.85" x2="120.70" y2="304.85" stroke="#000" stroke-width="1.2" />
<line x1="36.10" y1="225.41" x2="39.50" y2="225.41" stroke="#000" stroke-width="1.0" />
<text x="33.00" y="227.81" font-size="8.4" text-anchor="end" fill="#222" textLength="8.20" lengthAdjust="spacingAndGlyphs">40</text>
<line x1="36.10" y1="245.27" x2="39.50" y2="245.27" stroke="#000" stroke-width="1.0" />
<text x="33.00" y="247.67" font-size="8.4" text-anchor="end" fill="#222" textLength="8.20" lengthAdjust="spacingAndGlyphs">30</text>
<line x1="36.10" y1="265.13" x2="39.50" y2="265.13" stroke="#000" stroke-width="1.0" />
<text x="33.00" y="267.53" font-size="8.4" text-anchor="end" fill="#222" textLength="8.20" lengthAdjust="spacingAndGlyphs">20</text>
<line x1="36.10" y1="284.99" x2="39.50" y2="284.99" stroke="#000" stroke-width="1.0" />
<text x="33.00" y="287.39" font-size="8.4" text-anchor="end" fill="#222" textLength="8.20" lengthAdjust="spacingAndGlyphs">10</text>
<line x1="36.10" y1="304.85" x2="39.50" y2="304.85" stroke="#000" stroke-width="1.0" />
<text x="33.00" y="307.25" font-size="8.4" text-anchor="end" fill="#222" textLength="4.10" lengthAdjust="spacingAndGlyphs">0</text>
<line x1="55.60" y1="304.85" x2="55.60" y2="307.85" stroke="#000" stroke-width="0.9" />
<line x1="80.20" y1="304.85" x2="80.20" y2="307.85" stroke="#000" stroke-width="0.9" />
<line x1="104.50" y1="304.85" x2="104.50" y2="307.85" stroke="#000" stroke-width="0.9" />
<text transform="translate(59.80,314.85) rotate(-45)" font-size="8.6" text-anchor="end" fill="#222">HC</text>
<text transform="translate(84.00,314.15) rotate(-45)" font-size="8.0" text-anchor="end" fill="#222">pES<tspan font-size="4.4" dy="-3.0" fill="#333" textLength="9.5" lengthAdjust="spacingAndGlyphs">N/H IgG</tspan></text>
<text transform="translate(108.30,314.15) rotate(-45)" font-size="8.0" text-anchor="end" fill="#222">pES<tspan font-size="4.4" dy="-3.0" fill="#333" textLength="9.5" lengthAdjust="spacingAndGlyphs">L IgG</tspan></text>
<text transform="translate(19.20,263.80) rotate(-90)" font-size="8.8" text-anchor="middle" fill="#333" textLength="74.4" lengthAdjust="spacingAndGlyphs">% cTfh (PD-1<tspan font-size="6" dy="-2.6">+</tspan><tspan dy="2.6">CXCR5</tspan><tspan font-size="6" dy="-2.6">+</tspan><tspan dy="2.6">)</tspan></text>
<line x1="80.20" y1="229.20" x2="104.50" y2="229.20" stroke="#222" stroke-width="1.1" />
<text x="92.35" y="227.50" font-size="6.8" text-anchor="middle" font-weight="normal" fill="#222" >ns</text>
<circle cx="55.60" cy="289.81" r="1.62" fill="#e3193b" stroke="#000" stroke-width="1.05"/>
<circle cx="57.70" cy="288.91" r="1.62" fill="#e3193b" stroke="#000" stroke-width="1.05"/>
<circle cx="52.20" cy="291.20" r="1.62" fill="#e3193b" stroke="#000" stroke-width="1.05"/>
<circle cx="59.00" cy="292.98" r="1.62" fill="#e3193b" stroke="#000" stroke-width="1.05"/>
<circle cx="55.60" cy="294.27" r="1.62" fill="#e3193b" stroke="#000" stroke-width="1.05"/>
<circle cx="52.20" cy="294.97" r="1.62" fill="#e3193b" stroke="#000" stroke-width="1.05"/>
<circle cx="57.90" cy="296.06" r="1.62" fill="#e3193b" stroke="#000" stroke-width="1.05"/>
<circle cx="48.80" cy="297.95" r="1.62" fill="#e3193b" stroke="#000" stroke-width="1.05"/>
<circle cx="52.20" cy="298.25" r="1.62" fill="#e3193b" stroke="#000" stroke-width="1.05"/>
<circle cx="55.60" cy="297.65" r="1.62" fill="#e3193b" stroke="#000" stroke-width="1.05"/>
<circle cx="60.50" cy="298.74" r="1.62" fill="#e3193b" stroke="#000" stroke-width="1.05"/>
<circle cx="62.60" cy="298.94" r="1.62" fill="#e3193b" stroke="#000" stroke-width="1.05"/>
<circle cx="50.40" cy="300.23" r="1.62" fill="#e3193b" stroke="#000" stroke-width="1.05"/>
<circle cx="54.00" cy="300.13" r="1.62" fill="#e3193b" stroke="#000" stroke-width="1.05"/>
<circle cx="57.10" cy="300.63" r="1.62" fill="#e3193b" stroke="#000" stroke-width="1.05"/>
<circle cx="48.80" cy="302.02" r="1.62" fill="#e3193b" stroke="#000" stroke-width="1.05"/>
<circle cx="52.20" cy="301.82" r="1.62" fill="#e3193b" stroke="#000" stroke-width="1.05"/>
<circle cx="55.60" cy="303.31" r="1.62" fill="#e3193b" stroke="#000" stroke-width="1.05"/>
<circle cx="59.00" cy="302.02" r="1.62" fill="#e3193b" stroke="#000" stroke-width="1.05"/>
<circle cx="62.30" cy="302.72" r="1.62" fill="#e3193b" stroke="#000" stroke-width="1.05"/>
<line x1="72.00" y1="271.10" x2="88.40" y2="271.10" stroke="#3c3c3c" stroke-width="1.25" />
<line x1="76.00" y1="268.50" x2="84.40" y2="268.50" stroke="#222" stroke-width="1.0" />
<line x1="76.00" y1="273.50" x2="84.40" y2="273.50" stroke="#222" stroke-width="1.0" />
<line x1="80.20" y1="268.50" x2="80.20" y2="273.50" stroke="#222" stroke-width="1.0" />
<line x1="96.30" y1="268.20" x2="112.70" y2="268.20" stroke="#3c3c3c" stroke-width="1.25" />
<line x1="100.30" y1="263.00" x2="108.70" y2="263.00" stroke="#222" stroke-width="1.0" />
<line x1="100.30" y1="273.20" x2="108.70" y2="273.20" stroke="#222" stroke-width="1.0" />
<line x1="104.50" y1="263.00" x2="104.50" y2="273.20" stroke="#222" stroke-width="1.0" />
<circle cx="80.20" cy="244.70" r="1.62" fill="#0c58a0" stroke="#000" stroke-width="1.05"/>
<circle cx="80.20" cy="257.60" r="1.62" fill="#0c58a0" stroke="#000" stroke-width="1.05"/>
<circle cx="82.50" cy="263.70" r="1.62" fill="#0c58a0" stroke="#000" stroke-width="1.05"/>
<circle cx="78.10" cy="266.10" r="1.62" fill="#0c58a0" stroke="#000" stroke-width="1.05"/>
<circle cx="82.50" cy="267.30" r="1.62" fill="#0c58a0" stroke="#000" stroke-width="1.05"/>
<circle cx="78.10" cy="269.90" r="1.62" fill="#0c58a0" stroke="#000" stroke-width="1.05"/>
<circle cx="82.50" cy="271.30" r="1.62" fill="#0c58a0" stroke="#000" stroke-width="1.05"/>
<circle cx="73.70" cy="275.30" r="1.62" fill="#0c58a0" stroke="#000" stroke-width="1.05"/>
<circle cx="78.10" cy="274.00" r="1.62" fill="#0c58a0" stroke="#000" stroke-width="1.05"/>
<circle cx="82.50" cy="275.00" r="1.62" fill="#0c58a0" stroke="#000" stroke-width="1.05"/>
<circle cx="86.90" cy="273.00" r="1.62" fill="#0c58a0" stroke="#000" stroke-width="1.05"/>
<circle cx="82.50" cy="278.20" r="1.62" fill="#0c58a0" stroke="#000" stroke-width="1.05"/>
<circle cx="78.10" cy="281.30" r="1.62" fill="#0c58a0" stroke="#000" stroke-width="1.05"/>
<circle cx="82.50" cy="285.60" r="1.62" fill="#0c58a0" stroke="#000" stroke-width="1.05"/>
<circle cx="78.10" cy="288.20" r="1.62" fill="#0c58a0" stroke="#000" stroke-width="1.05"/>
<circle cx="98.10" cy="249.90" r="1.62" fill="#33dd44" stroke="#000" stroke-width="1.05"/>
<circle cx="104.50" cy="250.60" r="1.62" fill="#33dd44" stroke="#000" stroke-width="1.05"/>
<circle cx="111.00" cy="249.50" r="1.62" fill="#33dd44" stroke="#000" stroke-width="1.05"/>
<circle cx="104.50" cy="261.30" r="1.62" fill="#33dd44" stroke="#000" stroke-width="1.05"/>
<circle cx="104.50" cy="271.60" r="1.62" fill="#33dd44" stroke="#000" stroke-width="1.05"/>
<circle cx="104.50" cy="275.80" r="1.62" fill="#33dd44" stroke="#000" stroke-width="1.05"/>
<circle cx="101.20" cy="282.50" r="1.62" fill="#33dd44" stroke="#000" stroke-width="1.05"/>
<circle cx="107.90" cy="284.10" r="1.62" fill="#33dd44" stroke="#000" stroke-width="1.05"/>
<circle cx="104.50" cy="288.50" r="1.62" fill="#33dd44" stroke="#000" stroke-width="1.05"/>
<text x="141.45" y="190.75" font-size="11.2" text-anchor="start" font-weight="normal" fill="#000" style="stroke:#000;stroke-width:0.6px" textLength="7.1" lengthAdjust="spacingAndGlyphs">F</text>
<circle cx="168.75" cy="205.50" r="2.1" fill="#0c58a0" stroke="#000" stroke-width="1.05"/>
<circle cx="168.75" cy="213.75" r="2.1" fill="#33dd44" stroke="#000" stroke-width="1.05"/>
<text x="172.20" y="207.80" font-size="7.05" text-anchor="start" font-weight="normal" fill="#111" >Normal/High IgG</text>
<text x="172.20" y="216.05" font-size="7.05" text-anchor="start" font-weight="normal" fill="#111" >Low IgG</text>
<line x1="169.40" y1="226.50" x2="169.40" y2="304.80" stroke="#000" stroke-width="1.2" />
<line x1="168.80" y1="304.80" x2="249.40" y2="304.80" stroke="#000" stroke-width="1.2" />
<line x1="166.00" y1="226.98" x2="169.40" y2="226.98" stroke="#000" stroke-width="1.0" />
<text x="163.80" y="229.38" font-size="8.4" text-anchor="end" fill="#222" textLength="4.10" lengthAdjust="spacingAndGlyphs">6</text>
<line x1="166.00" y1="252.92" x2="169.40" y2="252.92" stroke="#000" stroke-width="1.0" />
<text x="163.80" y="255.32" font-size="8.4" text-anchor="end" fill="#222" textLength="4.10" lengthAdjust="spacingAndGlyphs">4</text>
<line x1="166.00" y1="278.86" x2="169.40" y2="278.86" stroke="#000" stroke-width="1.0" />
<text x="163.80" y="281.26" font-size="8.4" text-anchor="end" fill="#222" textLength="4.10" lengthAdjust="spacingAndGlyphs">2</text>
<line x1="166.00" y1="304.80" x2="169.40" y2="304.80" stroke="#000" stroke-width="1.0" />
<text x="163.80" y="307.20" font-size="8.4" text-anchor="end" fill="#222" textLength="4.10" lengthAdjust="spacingAndGlyphs">0</text>
<line x1="185.20" y1="304.80" x2="185.20" y2="307.80" stroke="#000" stroke-width="0.9" />
<line x1="209.40" y1="304.80" x2="209.40" y2="307.80" stroke="#000" stroke-width="0.9" />
<line x1="233.60" y1="304.80" x2="233.60" y2="307.80" stroke="#000" stroke-width="0.9" />
<text transform="translate(189.40,314.80) rotate(-45)" font-size="8.6" text-anchor="end" fill="#222">HC</text>
<text transform="translate(213.20,314.10) rotate(-45)" font-size="8.0" text-anchor="end" fill="#222">pES<tspan font-size="4.4" dy="-3.0" fill="#333" textLength="9.5" lengthAdjust="spacingAndGlyphs">N/H IgG</tspan></text>
<text transform="translate(237.40,314.10) rotate(-45)" font-size="8.0" text-anchor="end" fill="#222">pES<tspan font-size="4.4" dy="-3.0" fill="#333" textLength="9.5" lengthAdjust="spacingAndGlyphs">L IgG</tspan></text>
<text transform="translate(144.90,263.40) rotate(-90)" font-size="8.8" text-anchor="middle" fill="#333" textLength="61.0" lengthAdjust="spacingAndGlyphs">% CCR7<tspan font-size="6" dy="-2.6">+</tspan><tspan dy="2.6">CD45RA</tspan><tspan font-size="6" dy="-2.6">+</tspan><tspan dy="2.6"></tspan></text>
<text transform="translate(154.10,266.55) rotate(-90)" font-size="8.8" text-anchor="middle" fill="#333" textLength="43.9" lengthAdjust="spacingAndGlyphs">(Na&#239;ve CD4<tspan font-size="6" dy="-2.6">+</tspan><tspan dy="2.6">)</tspan></text>
<line x1="165.80" y1="291.83" x2="249.40" y2="291.83" stroke="#4a4a4a" stroke-width="1.5" stroke-dasharray="1.9,1.2"/>
<line x1="209.70" y1="235.50" x2="233.00" y2="235.50" stroke="#222" stroke-width="1.1" />
<text x="221.35" y="233.80" font-size="6.8" text-anchor="middle" font-weight="normal" fill="#222" >ns</text>
<line x1="177.00" y1="280.80" x2="193.40" y2="280.80" stroke="#222" stroke-width="1.2" />
<line x1="181.00" y1="278.00" x2="189.40" y2="278.00" stroke="#222" stroke-width="1.0" />
<line x1="185.20" y1="278.00" x2="185.20" y2="283.50" stroke="#222" stroke-width="1.0" />
<circle cx="185.20" cy="237.31" r="1.62" fill="#e3193b" stroke="#000" stroke-width="1.05"/>
<circle cx="183.70" cy="257.83" r="1.62" fill="#e3193b" stroke="#000" stroke-width="1.05"/>
<circle cx="186.10" cy="257.44" r="1.62" fill="#e3193b" stroke="#000" stroke-width="1.05"/>
<circle cx="185.20" cy="267.41" r="1.62" fill="#e3193b" stroke="#000" stroke-width="1.05"/>
<circle cx="186.00" cy="279.21" r="1.62" fill="#e3193b" stroke="#000" stroke-width="1.05"/>
<circle cx="188.20" cy="279.68" r="1.62" fill="#e3193b" stroke="#000" stroke-width="1.05"/>
<circle cx="180.30" cy="282.18" r="1.62" fill="#e3193b" stroke="#000" stroke-width="1.05"/>
<circle cx="186.00" cy="282.94" r="1.62" fill="#e3193b" stroke="#000" stroke-width="1.05"/>
<circle cx="189.70" cy="283.04" r="1.62" fill="#e3193b" stroke="#000" stroke-width="1.05"/>
<circle cx="177.80" cy="286.01" r="1.62" fill="#e3193b" stroke="#000" stroke-width="1.05"/>
<circle cx="180.30" cy="285.34" r="1.62" fill="#e3193b" stroke="#000" stroke-width="1.05"/>
<circle cx="183.20" cy="284.86" r="1.62" fill="#e3193b" stroke="#000" stroke-width="1.05"/>
<circle cx="191.80" cy="285.05" r="1.62" fill="#e3193b" stroke="#000" stroke-width="1.05"/>
<circle cx="181.70" cy="288.41" r="1.62" fill="#e3193b" stroke="#000" stroke-width="1.05"/>
<circle cx="183.80" cy="288.22" r="1.62" fill="#e3193b" stroke="#000" stroke-width="1.05"/>
<circle cx="186.10" cy="286.97" r="1.62" fill="#e3193b" stroke="#000" stroke-width="1.05"/>
<circle cx="188.90" cy="286.68" r="1.62" fill="#e3193b" stroke="#000" stroke-width="1.05"/>
<circle cx="178.00" cy="289.46" r="1.62" fill="#e3193b" stroke="#000" stroke-width="1.05"/>
<circle cx="191.80" cy="288.70" r="1.62" fill="#e3193b" stroke="#000" stroke-width="1.05"/>
<circle cx="185.50" cy="290.42" r="1.62" fill="#e3193b" stroke="#000" stroke-width="1.05"/>
<circle cx="187.90" cy="290.71" r="1.62" fill="#e3193b" stroke="#000" stroke-width="1.05"/>
<circle cx="182.00" cy="293.10" r="1.62" fill="#e3193b" stroke="#000" stroke-width="1.05"/>
<line x1="201.20" y1="290.50" x2="217.60" y2="290.50" stroke="#3c3c3c" stroke-width="1.25" />
<line x1="205.20" y1="288.30" x2="213.60" y2="288.30" stroke="#222" stroke-width="1.0" />
<line x1="205.20" y1="292.80" x2="213.60" y2="292.80" stroke="#222" stroke-width="1.0" />
<line x1="209.40" y1="288.30" x2="209.40" y2="292.80" stroke="#222" stroke-width="1.0" />
<line x1="225.40" y1="291.40" x2="241.80" y2="291.40" stroke="#3c3c3c" stroke-width="1.25" />
<line x1="229.40" y1="288.50" x2="237.80" y2="288.50" stroke="#222" stroke-width="1.0" />
<line x1="229.40" y1="294.80" x2="237.80" y2="294.80" stroke="#222" stroke-width="1.0" />
<line x1="233.60" y1="288.50" x2="233.60" y2="294.80" stroke="#222" stroke-width="1.0" />
<circle cx="207.50" cy="279.60" r="1.62" fill="#0c58a0" stroke="#000" stroke-width="1.05"/>
<circle cx="210.90" cy="279.60" r="1.62" fill="#0c58a0" stroke="#000" stroke-width="1.05"/>
<circle cx="202.60" cy="285.20" r="1.62" fill="#0c58a0" stroke="#000" stroke-width="1.05"/>
<circle cx="215.60" cy="284.50" r="1.62" fill="#0c58a0" stroke="#000" stroke-width="1.05"/>
<circle cx="206.10" cy="287.70" r="1.62" fill="#0c58a0" stroke="#000" stroke-width="1.05"/>
<circle cx="209.30" cy="286.80" r="1.62" fill="#0c58a0" stroke="#000" stroke-width="1.05"/>
<circle cx="212.50" cy="285.20" r="1.62" fill="#0c58a0" stroke="#000" stroke-width="1.05"/>
<circle cx="209.30" cy="290.80" r="1.62" fill="#0c58a0" stroke="#000" stroke-width="1.05"/>
<circle cx="205.60" cy="295.10" r="1.62" fill="#0c58a0" stroke="#000" stroke-width="1.05"/>
<circle cx="209.30" cy="294.80" r="1.62" fill="#0c58a0" stroke="#000" stroke-width="1.05"/>
<circle cx="212.50" cy="293.20" r="1.62" fill="#0c58a0" stroke="#000" stroke-width="1.05"/>
<circle cx="215.60" cy="294.80" r="1.62" fill="#0c58a0" stroke="#000" stroke-width="1.05"/>
<circle cx="212.50" cy="297.20" r="1.62" fill="#0c58a0" stroke="#000" stroke-width="1.05"/>
<circle cx="207.50" cy="301.10" r="1.62" fill="#0c58a0" stroke="#000" stroke-width="1.05"/>
<circle cx="210.90" cy="301.10" r="1.62" fill="#0c58a0" stroke="#000" stroke-width="1.05"/>
<circle cx="229.90" cy="283.10" r="1.62" fill="#33dd44" stroke="#000" stroke-width="1.05"/>
<circle cx="236.60" cy="283.10" r="1.62" fill="#33dd44" stroke="#000" stroke-width="1.05"/>
<circle cx="226.70" cy="288.40" r="1.62" fill="#33dd44" stroke="#000" stroke-width="1.05"/>
<circle cx="226.70" cy="292.10" r="1.62" fill="#33dd44" stroke="#000" stroke-width="1.05"/>
<circle cx="233.60" cy="291.00" r="1.62" fill="#33dd44" stroke="#000" stroke-width="1.05"/>
<circle cx="240.00" cy="292.60" r="1.62" fill="#33dd44" stroke="#000" stroke-width="1.05"/>
<circle cx="233.60" cy="298.80" r="1.62" fill="#33dd44" stroke="#000" stroke-width="1.05"/>
<circle cx="240.00" cy="301.60" r="1.62" fill="#33dd44" stroke="#000" stroke-width="1.05"/>
<circle cx="226.70" cy="304.50" r="1.62" fill="#33dd44" stroke="#000" stroke-width="1.05"/>
<text x="265.20" y="191.00" font-size="11.2" text-anchor="start" font-weight="normal" fill="#000" style="stroke:#000;stroke-width:0.6px" textLength="9.6" lengthAdjust="spacingAndGlyphs">G</text>
<circle cx="298.25" cy="199.50" r="2.1" fill="#0c58a0" stroke="#000" stroke-width="1.05"/>
<circle cx="298.25" cy="207.50" r="2.1" fill="#33dd44" stroke="#000" stroke-width="1.05"/>
<text x="302.20" y="201.80" font-size="7.05" text-anchor="start" font-weight="normal" fill="#111" >Normal/High IgG</text>
<text x="302.20" y="209.80" font-size="7.05" text-anchor="start" font-weight="normal" fill="#111" >Low IgG</text>
<line x1="299.40" y1="223.60" x2="299.40" y2="239.30" stroke="#000" stroke-width="1.2" />
<line x1="299.40" y1="244.80" x2="299.40" y2="304.70" stroke="#000" stroke-width="1.2" />
<line x1="298.80" y1="304.70" x2="382.00" y2="304.70" stroke="#000" stroke-width="1.2" />
<line x1="296.00" y1="224.10" x2="299.40" y2="224.10" stroke="#000" stroke-width="1.0" />
<text x="293.80" y="226.50" font-size="8.4" text-anchor="end" fill="#222" textLength="8.20" lengthAdjust="spacingAndGlyphs">30</text>
<line x1="296.00" y1="234.30" x2="299.40" y2="234.30" stroke="#000" stroke-width="1.0" />
<text x="293.80" y="236.70" font-size="8.4" text-anchor="end" fill="#222" textLength="8.20" lengthAdjust="spacingAndGlyphs">20</text>
<line x1="296.00" y1="245.30" x2="299.40" y2="245.30" stroke="#000" stroke-width="1.0" />
<text x="293.80" y="247.70" font-size="8.4" text-anchor="end" fill="#222" textLength="8.20" lengthAdjust="spacingAndGlyphs">10</text>
<line x1="296.00" y1="275.00" x2="299.40" y2="275.00" stroke="#000" stroke-width="1.0" />
<text x="293.80" y="277.40" font-size="8.4" text-anchor="end" fill="#222" textLength="4.10" lengthAdjust="spacingAndGlyphs">5</text>
<line x1="296.00" y1="304.70" x2="299.40" y2="304.70" stroke="#000" stroke-width="1.0" />
<text x="293.80" y="307.10" font-size="8.4" text-anchor="end" fill="#222" textLength="4.10" lengthAdjust="spacingAndGlyphs">0</text>
<line x1="297.40" y1="239.30" x2="301.40" y2="239.30" stroke="#000" stroke-width="0.9" />
<line x1="297.40" y1="245.30" x2="301.40" y2="245.30" stroke="#000" stroke-width="0.9" />
<line x1="315.30" y1="304.70" x2="315.30" y2="307.70" stroke="#000" stroke-width="0.9" />
<line x1="341.00" y1="304.70" x2="341.00" y2="307.70" stroke="#000" stroke-width="0.9" />
<line x1="365.30" y1="304.70" x2="365.30" y2="307.70" stroke="#000" stroke-width="0.9" />
<text transform="translate(319.50,314.70) rotate(-45)" font-size="8.6" text-anchor="end" fill="#222">HC</text>
<text transform="translate(344.80,314.00) rotate(-45)" font-size="8.0" text-anchor="end" fill="#222">pES<tspan font-size="4.4" dy="-3.0" fill="#333" textLength="9.5" lengthAdjust="spacingAndGlyphs">N/H IgG</tspan></text>
<text transform="translate(369.10,314.00) rotate(-45)" font-size="8.0" text-anchor="end" fill="#222">pES<tspan font-size="4.4" dy="-3.0" fill="#333" textLength="9.5" lengthAdjust="spacingAndGlyphs">L IgG</tspan></text>
<text transform="translate(268.40,263.80) rotate(-90)" font-size="8.8" text-anchor="middle" fill="#333" textLength="58.4" lengthAdjust="spacingAndGlyphs">% HLA-DR<tspan font-size="6" dy="-2.6">+</tspan><tspan dy="2.6">CD38</tspan><tspan font-size="6" dy="-2.6">+</tspan><tspan dy="2.6"></tspan></text>
<text transform="translate(276.70,261.15) rotate(-90)" font-size="8.8" text-anchor="middle" fill="#333" textLength="72.7" lengthAdjust="spacingAndGlyphs">(Gated on EM CD4<tspan font-size="6" dy="-2.6">+</tspan><tspan dy="2.6">)</tspan></text>
<line x1="342.30" y1="225.80" x2="365.60" y2="225.80" stroke="#222" stroke-width="1.1" />
<text x="353.95" y="224.10" font-size="6.8" text-anchor="middle" font-weight="normal" fill="#222" >ns</text>
<circle cx="315.50" cy="281.26" r="1.62" fill="#e3193b" stroke="#000" stroke-width="1.05"/>
<circle cx="315.50" cy="290.20" r="1.62" fill="#e3193b" stroke="#000" stroke-width="1.05"/>
<circle cx="314.90" cy="292.88" r="1.62" fill="#e3193b" stroke="#000" stroke-width="1.05"/>
<circle cx="316.40" cy="294.07" r="1.62" fill="#e3193b" stroke="#000" stroke-width="1.05"/>
<circle cx="314.90" cy="295.36" r="1.62" fill="#e3193b" stroke="#000" stroke-width="1.05"/>
<circle cx="308.60" cy="299.14" r="1.62" fill="#e3193b" stroke="#000" stroke-width="1.05"/>
<circle cx="311.30" cy="299.14" r="1.62" fill="#e3193b" stroke="#000" stroke-width="1.05"/>
<circle cx="314.30" cy="298.54" r="1.62" fill="#e3193b" stroke="#000" stroke-width="1.05"/>
<circle cx="317.00" cy="297.95" r="1.62" fill="#e3193b" stroke="#000" stroke-width="1.05"/>
<circle cx="319.60" cy="298.24" r="1.62" fill="#e3193b" stroke="#000" stroke-width="1.05"/>
<circle cx="322.40" cy="299.14" r="1.62" fill="#e3193b" stroke="#000" stroke-width="1.05"/>
<circle cx="310.40" cy="301.22" r="1.62" fill="#e3193b" stroke="#000" stroke-width="1.05"/>
<circle cx="314.30" cy="300.33" r="1.62" fill="#e3193b" stroke="#000" stroke-width="1.05"/>
<circle cx="317.60" cy="299.73" r="1.62" fill="#e3193b" stroke="#000" stroke-width="1.05"/>
<circle cx="320.60" cy="301.22" r="1.62" fill="#e3193b" stroke="#000" stroke-width="1.05"/>
<circle cx="311.60" cy="302.91" r="1.62" fill="#e3193b" stroke="#000" stroke-width="1.05"/>
<circle cx="314.30" cy="302.61" r="1.62" fill="#e3193b" stroke="#000" stroke-width="1.05"/>
<circle cx="317.30" cy="302.91" r="1.62" fill="#e3193b" stroke="#000" stroke-width="1.05"/>
<circle cx="320.00" cy="302.91" r="1.62" fill="#e3193b" stroke="#000" stroke-width="1.05"/>
<circle cx="317.00" cy="304.40" r="1.62" fill="#e3193b" stroke="#000" stroke-width="1.05"/>
<line x1="332.80" y1="267.90" x2="349.20" y2="267.90" stroke="#3c3c3c" stroke-width="1.25" />
<line x1="336.80" y1="261.90" x2="345.20" y2="261.90" stroke="#222" stroke-width="1.0" />
<line x1="336.80" y1="273.50" x2="345.20" y2="273.50" stroke="#222" stroke-width="1.0" />
<line x1="341.00" y1="261.90" x2="341.00" y2="273.50" stroke="#222" stroke-width="1.0" />
<line x1="357.10" y1="280.10" x2="373.50" y2="280.10" stroke="#3c3c3c" stroke-width="1.25" />
<line x1="361.10" y1="274.00" x2="369.50" y2="274.00" stroke="#222" stroke-width="1.0" />
<line x1="361.10" y1="286.50" x2="369.50" y2="286.50" stroke="#222" stroke-width="1.0" />
<line x1="365.30" y1="274.00" x2="365.30" y2="286.50" stroke="#222" stroke-width="1.0" />
<circle cx="341.00" cy="234.30" r="1.62" fill="#0c58a0" stroke="#000" stroke-width="1.05"/>
<circle cx="341.00" cy="257.50" r="1.62" fill="#0c58a0" stroke="#000" stroke-width="1.05"/>
<circle cx="334.00" cy="266.40" r="1.62" fill="#0c58a0" stroke="#000" stroke-width="1.05"/>
<circle cx="338.70" cy="265.60" r="1.62" fill="#0c58a0" stroke="#000" stroke-width="1.05"/>
<circle cx="342.90" cy="264.80" r="1.62" fill="#0c58a0" stroke="#000" stroke-width="1.05"/>
<circle cx="347.60" cy="266.40" r="1.62" fill="#0c58a0" stroke="#000" stroke-width="1.05"/>
<circle cx="334.00" cy="274.30" r="1.62" fill="#0c58a0" stroke="#000" stroke-width="1.05"/>
<circle cx="338.70" cy="273.70" r="1.62" fill="#0c58a0" stroke="#000" stroke-width="1.05"/>
<circle cx="342.90" cy="274.50" r="1.62" fill="#0c58a0" stroke="#000" stroke-width="1.05"/>
<circle cx="347.60" cy="276.60" r="1.62" fill="#0c58a0" stroke="#000" stroke-width="1.05"/>
<circle cx="342.90" cy="277.80" r="1.62" fill="#0c58a0" stroke="#000" stroke-width="1.05"/>
<circle cx="338.70" cy="281.00" r="1.62" fill="#0c58a0" stroke="#000" stroke-width="1.05"/>
<circle cx="347.60" cy="281.00" r="1.62" fill="#0c58a0" stroke="#000" stroke-width="1.05"/>
<circle cx="342.90" cy="283.60" r="1.62" fill="#0c58a0" stroke="#000" stroke-width="1.05"/>
<circle cx="341.00" cy="296.10" r="1.62" fill="#0c58a0" stroke="#000" stroke-width="1.05"/>
<circle cx="365.30" cy="255.60" r="1.62" fill="#33dd44" stroke="#000" stroke-width="1.05"/>
<circle cx="358.60" cy="272.90" r="1.62" fill="#33dd44" stroke="#000" stroke-width="1.05"/>
<circle cx="365.30" cy="274.50" r="1.62" fill="#33dd44" stroke="#000" stroke-width="1.05"/>
<circle cx="372.20" cy="273.70" r="1.62" fill="#33dd44" stroke="#000" stroke-width="1.05"/>
<circle cx="365.30" cy="284.70" r="1.62" fill="#33dd44" stroke="#000" stroke-width="1.05"/>
<circle cx="365.30" cy="294.90" r="1.62" fill="#33dd44" stroke="#000" stroke-width="1.05"/>
<circle cx="365.30" cy="303.80" r="1.62" fill="#33dd44" stroke="#000" stroke-width="1.05"/>
<text x="400.45" y="191.00" font-size="11.2" text-anchor="start" font-weight="normal" fill="#000" style="stroke:#000;stroke-width:0.6px" textLength="8.2" lengthAdjust="spacingAndGlyphs">H</text>
<circle cx="424.25" cy="192.50" r="2.1" fill="#0c58a0" stroke="#000" stroke-width="1.05"/>
<circle cx="424.25" cy="201.25" r="2.1" fill="#33dd44" stroke="#000" stroke-width="1.05"/>
<text x="427.95" y="194.80" font-size="7.05" text-anchor="start" font-weight="normal" fill="#111" >Normal/High IgG</text>
<text x="427.95" y="203.55" font-size="7.05" text-anchor="start" font-weight="normal" fill="#111" >Low IgG</text>
<line x1="426.10" y1="220.80" x2="426.10" y2="260.50" stroke="#000" stroke-width="1.2" />
<line x1="426.10" y1="265.70" x2="426.10" y2="305.10" stroke="#000" stroke-width="1.2" />
<line x1="425.50" y1="305.10" x2="512.00" y2="305.10" stroke="#000" stroke-width="1.2" />
<line x1="422.70" y1="221.30" x2="426.10" y2="221.30" stroke="#000" stroke-width="1.0" />
<text x="421.10" y="223.70" font-size="8.4" text-anchor="end" fill="#222" textLength="4.10" lengthAdjust="spacingAndGlyphs">8</text>
<line x1="422.70" y1="243.80" x2="426.10" y2="243.80" stroke="#000" stroke-width="1.0" />
<text x="421.10" y="246.20" font-size="8.4" text-anchor="end" fill="#222" textLength="4.10" lengthAdjust="spacingAndGlyphs">4</text>
<line x1="422.70" y1="266.20" x2="426.10" y2="266.20" stroke="#000" stroke-width="1.0" />
<text x="421.10" y="268.60" font-size="8.4" text-anchor="end" fill="#222" textLength="4.10" lengthAdjust="spacingAndGlyphs">1</text>
<line x1="422.70" y1="305.10" x2="426.10" y2="305.10" stroke="#000" stroke-width="1.0" />
<text x="421.10" y="307.50" font-size="8.4" text-anchor="end" fill="#222" textLength="4.10" lengthAdjust="spacingAndGlyphs">0</text>
<line x1="424.10" y1="260.50" x2="428.10" y2="260.50" stroke="#000" stroke-width="0.9" />
<line x1="424.10" y1="266.20" x2="428.10" y2="266.20" stroke="#000" stroke-width="0.9" />
<line x1="443.20" y1="305.10" x2="443.20" y2="308.10" stroke="#000" stroke-width="0.9" />
<line x1="469.00" y1="305.10" x2="469.00" y2="308.10" stroke="#000" stroke-width="0.9" />
<line x1="494.60" y1="305.10" x2="494.60" y2="308.10" stroke="#000" stroke-width="0.9" />
<text transform="translate(447.40,315.10) rotate(-45)" font-size="8.6" text-anchor="end" fill="#222">HC</text>
<text transform="translate(472.80,314.40) rotate(-45)" font-size="8.0" text-anchor="end" fill="#222">pES<tspan font-size="4.4" dy="-3.0" fill="#333" textLength="9.5" lengthAdjust="spacingAndGlyphs">N/H IgG</tspan></text>
<text transform="translate(498.40,314.40) rotate(-45)" font-size="8.0" text-anchor="end" fill="#222">pES<tspan font-size="4.4" dy="-3.0" fill="#333" textLength="9.5" lengthAdjust="spacingAndGlyphs">L IgG</tspan></text>
<text transform="translate(409.20,263.20) rotate(-90)" font-size="8.8" text-anchor="middle" fill="#333" textLength="82.8" lengthAdjust="spacingAndGlyphs">% CD19<tspan font-size="6" dy="-2.6">+</tspan><tspan dy="2.6">CD27</tspan><tspan font-size="6" dy="-2.6">+</tspan><tspan dy="2.6">IgM</tspan><tspan font-size="6" dy="-2.6">&#8722;</tspan><tspan dy="2.6">IgD</tspan><tspan font-size="6" dy="-2.6">&#8722;</tspan><tspan dy="2.6"></tspan></text>
<line x1="467.80" y1="223.50" x2="494.40" y2="223.50" stroke="#222" stroke-width="1.1" />
<text x="481.90" y="223.90" font-size="8" text-anchor="middle" font-weight="normal" fill="#222" >*</text>
<circle cx="443.40" cy="222.95" r="1.62" fill="#e3193b" stroke="#000" stroke-width="1.05"/>
<circle cx="443.40" cy="233.17" r="1.62" fill="#e3193b" stroke="#000" stroke-width="1.05"/>
<circle cx="445.60" cy="240.08" r="1.62" fill="#e3193b" stroke="#000" stroke-width="1.05"/>
<circle cx="443.20" cy="242.56" r="1.62" fill="#e3193b" stroke="#000" stroke-width="1.05"/>
<circle cx="445.60" cy="245.66" r="1.62" fill="#e3193b" stroke="#000" stroke-width="1.05"/>
<circle cx="436.40" cy="247.83" r="1.62" fill="#e3193b" stroke="#000" stroke-width="1.05"/>
<circle cx="441.10" cy="249.17" r="1.62" fill="#e3193b" stroke="#000" stroke-width="1.05"/>
<circle cx="445.60" cy="249.17" r="1.62" fill="#e3193b" stroke="#000" stroke-width="1.05"/>
<circle cx="436.40" cy="251.85" r="1.62" fill="#e3193b" stroke="#000" stroke-width="1.05"/>
<circle cx="438.90" cy="251.02" r="1.62" fill="#e3193b" stroke="#000" stroke-width="1.05"/>
<circle cx="443.40" cy="252.26" r="1.62" fill="#e3193b" stroke="#000" stroke-width="1.05"/>
<circle cx="447.90" cy="251.54" r="1.62" fill="#e3193b" stroke="#000" stroke-width="1.05"/>
<circle cx="450.60" cy="251.02" r="1.62" fill="#e3193b" stroke="#000" stroke-width="1.05"/>
<circle cx="440.70" cy="253.40" r="1.62" fill="#e3193b" stroke="#000" stroke-width="1.05"/>
<circle cx="447.90" cy="254.74" r="1.62" fill="#e3193b" stroke="#000" stroke-width="1.05"/>
<circle cx="450.60" cy="255.67" r="1.62" fill="#e3193b" stroke="#000" stroke-width="1.05"/>
<circle cx="436.20" cy="258.97" r="1.62" fill="#e3193b" stroke="#000" stroke-width="1.05"/>
<circle cx="438.90" cy="258.04" r="1.62" fill="#e3193b" stroke="#000" stroke-width="1.05"/>
<circle cx="441.10" cy="259.38" r="1.62" fill="#e3193b" stroke="#000" stroke-width="1.05"/>
<circle cx="443.40" cy="258.46" r="1.62" fill="#e3193b" stroke="#000" stroke-width="1.05"/>
<circle cx="445.60" cy="257.11" r="1.62" fill="#e3193b" stroke="#000" stroke-width="1.05"/>
<circle cx="447.90" cy="258.46" r="1.62" fill="#e3193b" stroke="#000" stroke-width="1.05"/>
<circle cx="445.60" cy="260.52" r="1.62" fill="#e3193b" stroke="#000" stroke-width="1.05"/>
<circle cx="450.60" cy="259.90" r="1.62" fill="#e3193b" stroke="#000" stroke-width="1.05"/>
<line x1="460.80" y1="279.00" x2="477.20" y2="279.00" stroke="#3c3c3c" stroke-width="1.25" />
<line x1="464.80" y1="274.60" x2="473.20" y2="274.60" stroke="#222" stroke-width="1.0" />
<line x1="464.80" y1="283.60" x2="473.20" y2="283.60" stroke="#222" stroke-width="1.0" />
<line x1="469.00" y1="274.60" x2="469.00" y2="283.60" stroke="#222" stroke-width="1.0" />
<line x1="486.40" y1="295.30" x2="502.80" y2="295.30" stroke="#3c3c3c" stroke-width="1.25" />
<line x1="490.40" y1="292.60" x2="498.80" y2="292.60" stroke="#222" stroke-width="1.0" />
<line x1="490.40" y1="298.00" x2="498.80" y2="298.00" stroke="#222" stroke-width="1.0" />
<line x1="494.60" y1="292.60" x2="494.60" y2="298.00" stroke="#222" stroke-width="1.0" />
<circle cx="462.20" cy="258.20" r="1.62" fill="#0c58a0" stroke="#000" stroke-width="1.05"/>
<circle cx="469.00" cy="259.40" r="1.62" fill="#0c58a0" stroke="#000" stroke-width="1.05"/>
<circle cx="476.00" cy="255.80" r="1.62" fill="#0c58a0" stroke="#000" stroke-width="1.05"/>
<circle cx="462.20" cy="271.30" r="1.62" fill="#0c58a0" stroke="#000" stroke-width="1.05"/>
<circle cx="476.00" cy="274.30" r="1.62" fill="#0c58a0" stroke="#000" stroke-width="1.05"/>
<circle cx="469.00" cy="276.10" r="1.62" fill="#0c58a0" stroke="#000" stroke-width="1.05"/>
<circle cx="469.00" cy="279.70" r="1.62" fill="#0c58a0" stroke="#000" stroke-width="1.05"/>
<circle cx="469.00" cy="282.60" r="1.62" fill="#0c58a0" stroke="#000" stroke-width="1.05"/>
<circle cx="462.20" cy="289.90" r="1.62" fill="#0c58a0" stroke="#000" stroke-width="1.05"/>
<circle cx="469.00" cy="288.40" r="1.62" fill="#0c58a0" stroke="#000" stroke-width="1.05"/>
<circle cx="476.00" cy="287.40" r="1.62" fill="#0c58a0" stroke="#000" stroke-width="1.05"/>
<circle cx="469.00" cy="291.70" r="1.62" fill="#0c58a0" stroke="#000" stroke-width="1.05"/>
<circle cx="476.00" cy="292.00" r="1.62" fill="#0c58a0" stroke="#000" stroke-width="1.05"/>
<circle cx="469.00" cy="295.30" r="1.62" fill="#0c58a0" stroke="#000" stroke-width="1.05"/>
<circle cx="469.00" cy="305.20" r="1.62" fill="#0c58a0" stroke="#000" stroke-width="1.05"/>
<circle cx="494.60" cy="278.50" r="1.62" fill="#33dd44" stroke="#000" stroke-width="1.05"/>
<circle cx="487.70" cy="290.20" r="1.62" fill="#33dd44" stroke="#000" stroke-width="1.05"/>
<circle cx="494.60" cy="288.40" r="1.62" fill="#33dd44" stroke="#000" stroke-width="1.05"/>
<circle cx="501.50" cy="290.40" r="1.62" fill="#33dd44" stroke="#000" stroke-width="1.05"/>
<circle cx="494.60" cy="298.60" r="1.62" fill="#33dd44" stroke="#000" stroke-width="1.05"/>
<circle cx="501.50" cy="299.80" r="1.62" fill="#33dd44" stroke="#000" stroke-width="1.05"/>
<circle cx="494.60" cy="302.80" r="1.62" fill="#33dd44" stroke="#000" stroke-width="1.05"/>
<circle cx="501.50" cy="304.20" r="1.62" fill="#33dd44" stroke="#000" stroke-width="1.05"/>
<circle cx="487.70" cy="305.20" r="1.62" fill="#33dd44" stroke="#000" stroke-width="1.05"/>
<text x="9.70" y="350.75" font-size="11.2" text-anchor="start" font-weight="normal" fill="#000" style="stroke:#000;stroke-width:0.6px" textLength="2.9" lengthAdjust="spacingAndGlyphs">I</text>
<circle cx="38.25" cy="355.50" r="2.1" fill="#0c58a0" stroke="#000" stroke-width="1.05"/>
<circle cx="38.25" cy="363.25" r="2.1" fill="#33dd44" stroke="#000" stroke-width="1.05"/>
<text x="42.20" y="357.80" font-size="7.05" text-anchor="start" font-weight="normal" fill="#111" >Normal/High IgA</text>
<text x="42.20" y="365.55" font-size="7.05" text-anchor="start" font-weight="normal" fill="#111" >Low IgA</text>
<line x1="39.50" y1="380.60" x2="39.50" y2="462.20" stroke="#000" stroke-width="1.2" />
<line x1="38.90" y1="462.20" x2="123.20" y2="462.20" stroke="#000" stroke-width="1.2" />
<line x1="35.10" y1="381.08" x2="39.50" y2="381.08" stroke="#000" stroke-width="1.0" />
<text x="31.90" y="383.48" font-size="8.4" text-anchor="end" fill="#222" textLength="8.20" lengthAdjust="spacingAndGlyphs">40</text>
<line x1="35.10" y1="401.36" x2="39.50" y2="401.36" stroke="#000" stroke-width="1.0" />
<text x="31.90" y="403.76" font-size="8.4" text-anchor="end" fill="#222" textLength="8.20" lengthAdjust="spacingAndGlyphs">30</text>
<line x1="35.10" y1="421.64" x2="39.50" y2="421.64" stroke="#000" stroke-width="1.0" />
<text x="31.90" y="424.04" font-size="8.4" text-anchor="end" fill="#222" textLength="8.20" lengthAdjust="spacingAndGlyphs">20</text>
<line x1="35.10" y1="441.92" x2="39.50" y2="441.92" stroke="#000" stroke-width="1.0" />
<text x="31.90" y="444.32" font-size="8.4" text-anchor="end" fill="#222" textLength="8.20" lengthAdjust="spacingAndGlyphs">10</text>
<line x1="35.10" y1="462.20" x2="39.50" y2="462.20" stroke="#000" stroke-width="1.0" />
<text x="31.90" y="464.60" font-size="8.4" text-anchor="end" fill="#222" textLength="4.10" lengthAdjust="spacingAndGlyphs">0</text>
<line x1="56.00" y1="462.20" x2="56.00" y2="465.20" stroke="#000" stroke-width="0.9" />
<line x1="81.40" y1="462.20" x2="81.40" y2="465.20" stroke="#000" stroke-width="0.9" />
<line x1="106.20" y1="462.20" x2="106.20" y2="465.20" stroke="#000" stroke-width="0.9" />
<text transform="translate(60.20,472.20) rotate(-45)" font-size="8.6" text-anchor="end" fill="#222">HC</text>
<text transform="translate(85.20,471.50) rotate(-45)" font-size="8.0" text-anchor="end" fill="#222">pES<tspan font-size="4.4" dy="-3.0" fill="#333" textLength="9.5" lengthAdjust="spacingAndGlyphs">N/H IgA</tspan></text>
<text transform="translate(110.00,471.50) rotate(-45)" font-size="8.0" text-anchor="end" fill="#222">pES<tspan font-size="4.4" dy="-3.0" fill="#333" textLength="9.5" lengthAdjust="spacingAndGlyphs">L IgA</tspan></text>
<text transform="translate(19.20,420.80) rotate(-90)" font-size="8.8" text-anchor="middle" fill="#333" textLength="72.6" lengthAdjust="spacingAndGlyphs">% cTfh (PD-1<tspan font-size="6" dy="-2.6">+</tspan><tspan dy="2.6">CXCR5</tspan><tspan font-size="6" dy="-2.6">+</tspan><tspan dy="2.6">)</tspan></text>
<line x1="80.80" y1="384.90" x2="106.20" y2="384.90" stroke="#222" stroke-width="1.1" />
<text x="93.50" y="383.20" font-size="6.8" text-anchor="middle" font-weight="normal" fill="#222" >ns</text>
<circle cx="56.00" cy="446.84" r="1.62" fill="#e3193b" stroke="#000" stroke-width="1.05"/>
<circle cx="58.10" cy="445.93" r="1.62" fill="#e3193b" stroke="#000" stroke-width="1.05"/>
<circle cx="52.60" cy="448.26" r="1.62" fill="#e3193b" stroke="#000" stroke-width="1.05"/>
<circle cx="59.40" cy="450.08" r="1.62" fill="#e3193b" stroke="#000" stroke-width="1.05"/>
<circle cx="56.00" cy="451.40" r="1.62" fill="#e3193b" stroke="#000" stroke-width="1.05"/>
<circle cx="52.60" cy="452.11" r="1.62" fill="#e3193b" stroke="#000" stroke-width="1.05"/>
<circle cx="58.30" cy="453.23" r="1.62" fill="#e3193b" stroke="#000" stroke-width="1.05"/>
<circle cx="49.20" cy="455.15" r="1.62" fill="#e3193b" stroke="#000" stroke-width="1.05"/>
<circle cx="52.60" cy="455.46" r="1.62" fill="#e3193b" stroke="#000" stroke-width="1.05"/>
<circle cx="56.00" cy="454.85" r="1.62" fill="#e3193b" stroke="#000" stroke-width="1.05"/>
<circle cx="60.90" cy="455.96" r="1.62" fill="#e3193b" stroke="#000" stroke-width="1.05"/>
<circle cx="63.00" cy="456.17" r="1.62" fill="#e3193b" stroke="#000" stroke-width="1.05"/>
<circle cx="50.80" cy="457.48" r="1.62" fill="#e3193b" stroke="#000" stroke-width="1.05"/>
<circle cx="54.40" cy="457.38" r="1.62" fill="#e3193b" stroke="#000" stroke-width="1.05"/>
<circle cx="57.50" cy="457.89" r="1.62" fill="#e3193b" stroke="#000" stroke-width="1.05"/>
<circle cx="49.20" cy="459.31" r="1.62" fill="#e3193b" stroke="#000" stroke-width="1.05"/>
<circle cx="52.60" cy="459.11" r="1.62" fill="#e3193b" stroke="#000" stroke-width="1.05"/>
<circle cx="56.00" cy="460.63" r="1.62" fill="#e3193b" stroke="#000" stroke-width="1.05"/>
<circle cx="59.40" cy="459.31" r="1.62" fill="#e3193b" stroke="#000" stroke-width="1.05"/>
<circle cx="62.70" cy="460.02" r="1.62" fill="#e3193b" stroke="#000" stroke-width="1.05"/>
<line x1="73.20" y1="427.70" x2="89.60" y2="427.70" stroke="#3c3c3c" stroke-width="1.25" />
<line x1="77.20" y1="424.40" x2="85.60" y2="424.40" stroke="#222" stroke-width="1.0" />
<line x1="77.20" y1="431.00" x2="85.60" y2="431.00" stroke="#222" stroke-width="1.0" />
<line x1="81.40" y1="424.40" x2="81.40" y2="431.00" stroke="#222" stroke-width="1.0" />
<line x1="98.00" y1="425.20" x2="114.40" y2="425.20" stroke="#3c3c3c" stroke-width="1.25" />
<line x1="102.00" y1="420.60" x2="110.40" y2="420.60" stroke="#222" stroke-width="1.0" />
<line x1="102.00" y1="429.50" x2="110.40" y2="429.50" stroke="#222" stroke-width="1.0" />
<line x1="106.20" y1="420.60" x2="106.20" y2="429.50" stroke="#222" stroke-width="1.0" />
<circle cx="81.40" cy="400.30" r="1.62" fill="#0c58a0" stroke="#000" stroke-width="1.05"/>
<circle cx="81.40" cy="413.70" r="1.62" fill="#0c58a0" stroke="#000" stroke-width="1.05"/>
<circle cx="79.00" cy="420.20" r="1.62" fill="#0c58a0" stroke="#000" stroke-width="1.05"/>
<circle cx="83.90" cy="422.40" r="1.62" fill="#0c58a0" stroke="#000" stroke-width="1.05"/>
<circle cx="81.40" cy="426.30" r="1.62" fill="#0c58a0" stroke="#000" stroke-width="1.05"/>
<circle cx="74.60" cy="431.80" r="1.62" fill="#0c58a0" stroke="#000" stroke-width="1.05"/>
<circle cx="79.00" cy="430.30" r="1.62" fill="#0c58a0" stroke="#000" stroke-width="1.05"/>
<circle cx="83.90" cy="431.40" r="1.62" fill="#0c58a0" stroke="#000" stroke-width="1.05"/>
<circle cx="88.30" cy="429.60" r="1.62" fill="#0c58a0" stroke="#000" stroke-width="1.05"/>
<circle cx="83.90" cy="435.00" r="1.62" fill="#0c58a0" stroke="#000" stroke-width="1.05"/>
<circle cx="79.00" cy="437.80" r="1.62" fill="#0c58a0" stroke="#000" stroke-width="1.05"/>
<circle cx="83.90" cy="440.50" r="1.62" fill="#0c58a0" stroke="#000" stroke-width="1.05"/>
<circle cx="79.00" cy="442.70" r="1.62" fill="#0c58a0" stroke="#000" stroke-width="1.05"/>
<circle cx="99.60" cy="405.40" r="1.62" fill="#33dd44" stroke="#000" stroke-width="1.05"/>
<circle cx="106.20" cy="406.50" r="1.62" fill="#33dd44" stroke="#000" stroke-width="1.05"/>
<circle cx="113.00" cy="405.60" r="1.62" fill="#33dd44" stroke="#000" stroke-width="1.05"/>
<circle cx="106.20" cy="417.50" r="1.62" fill="#33dd44" stroke="#000" stroke-width="1.05"/>
<circle cx="106.20" cy="423.70" r="1.62" fill="#33dd44" stroke="#000" stroke-width="1.05"/>
<circle cx="102.90" cy="428.10" r="1.62" fill="#33dd44" stroke="#000" stroke-width="1.05"/>
<circle cx="109.70" cy="428.10" r="1.62" fill="#33dd44" stroke="#000" stroke-width="1.05"/>
<circle cx="106.20" cy="432.30" r="1.62" fill="#33dd44" stroke="#000" stroke-width="1.05"/>
<circle cx="106.20" cy="439.40" r="1.62" fill="#33dd44" stroke="#000" stroke-width="1.05"/>
<circle cx="102.90" cy="445.70" r="1.62" fill="#33dd44" stroke="#000" stroke-width="1.05"/>
<circle cx="109.70" cy="445.20" r="1.62" fill="#33dd44" stroke="#000" stroke-width="1.05"/>
<text x="140.20" y="351.25" font-size="11.2" text-anchor="start" font-weight="normal" fill="#000" style="stroke:#000;stroke-width:0.6px" textLength="6.0" lengthAdjust="spacingAndGlyphs">J</text>
<circle cx="169.25" cy="353.75" r="2.1" fill="#0c58a0" stroke="#000" stroke-width="1.05"/>
<circle cx="169.25" cy="362.00" r="2.1" fill="#33dd44" stroke="#000" stroke-width="1.05"/>
<text x="172.95" y="356.05" font-size="7.05" text-anchor="start" font-weight="normal" fill="#111" >Normal/High IgA</text>
<text x="172.95" y="364.30" font-size="7.05" text-anchor="start" font-weight="normal" fill="#111" >Low IgA</text>
<line x1="169.90" y1="376.90" x2="169.90" y2="462.20" stroke="#000" stroke-width="1.2" />
<line x1="169.30" y1="462.20" x2="257.00" y2="462.20" stroke="#000" stroke-width="1.2" />
<line x1="166.10" y1="377.42" x2="169.90" y2="377.42" stroke="#000" stroke-width="1.0" />
<text x="161.70" y="379.82" font-size="8.4" text-anchor="end" fill="#222" textLength="4.10" lengthAdjust="spacingAndGlyphs">6</text>
<line x1="166.10" y1="405.68" x2="169.90" y2="405.68" stroke="#000" stroke-width="1.0" />
<text x="161.70" y="408.08" font-size="8.4" text-anchor="end" fill="#222" textLength="4.10" lengthAdjust="spacingAndGlyphs">4</text>
<line x1="166.10" y1="433.94" x2="169.90" y2="433.94" stroke="#000" stroke-width="1.0" />
<text x="161.70" y="436.34" font-size="8.4" text-anchor="end" fill="#222" textLength="4.10" lengthAdjust="spacingAndGlyphs">2</text>
<line x1="166.10" y1="462.20" x2="169.90" y2="462.20" stroke="#000" stroke-width="1.0" />
<text x="161.70" y="464.60" font-size="8.4" text-anchor="end" fill="#222" textLength="4.10" lengthAdjust="spacingAndGlyphs">0</text>
<line x1="187.30" y1="462.20" x2="187.30" y2="465.20" stroke="#000" stroke-width="0.9" />
<line x1="213.60" y1="462.20" x2="213.60" y2="465.20" stroke="#000" stroke-width="0.9" />
<line x1="239.30" y1="462.20" x2="239.30" y2="465.20" stroke="#000" stroke-width="0.9" />
<text transform="translate(191.50,472.20) rotate(-45)" font-size="8.6" text-anchor="end" fill="#222">HC</text>
<text transform="translate(217.40,471.50) rotate(-45)" font-size="8.0" text-anchor="end" fill="#222">pES<tspan font-size="4.4" dy="-3.0" fill="#333" textLength="9.5" lengthAdjust="spacingAndGlyphs">N/H IgA</tspan></text>
<text transform="translate(243.10,471.50) rotate(-45)" font-size="8.0" text-anchor="end" fill="#222">pES<tspan font-size="4.4" dy="-3.0" fill="#333" textLength="9.5" lengthAdjust="spacingAndGlyphs">L IgA</tspan></text>
<text transform="translate(143.60,421.55) rotate(-90)" font-size="8.8" text-anchor="middle" fill="#333" textLength="59.3" lengthAdjust="spacingAndGlyphs">% CCR7<tspan font-size="6" dy="-2.6">+</tspan><tspan dy="2.6">CD45RA</tspan><tspan font-size="6" dy="-2.6">+</tspan><tspan dy="2.6"></tspan></text>
<text transform="translate(153.30,421.75) rotate(-90)" font-size="8.8" text-anchor="middle" fill="#333" textLength="47.7" lengthAdjust="spacingAndGlyphs">(Na&#239;ve CD4<tspan font-size="6" dy="-2.6">+</tspan><tspan dy="2.6">)</tspan></text>
<line x1="166.30" y1="448.07" x2="257.00" y2="448.07" stroke="#4a4a4a" stroke-width="1.5" stroke-dasharray="1.9,1.2"/>
<line x1="213.50" y1="386.40" x2="239.40" y2="386.40" stroke="#222" stroke-width="1.1" />
<text x="226.45" y="384.70" font-size="6.8" text-anchor="middle" font-weight="normal" fill="#222" >ns</text>
<line x1="179.10" y1="436.30" x2="195.50" y2="436.30" stroke="#222" stroke-width="1.2" />
<line x1="183.10" y1="433.50" x2="191.50" y2="433.50" stroke="#222" stroke-width="1.0" />
<line x1="187.30" y1="433.50" x2="187.30" y2="439.00" stroke="#222" stroke-width="1.0" />
<circle cx="187.30" cy="388.68" r="1.62" fill="#e3193b" stroke="#000" stroke-width="1.05"/>
<circle cx="185.80" cy="411.03" r="1.62" fill="#e3193b" stroke="#000" stroke-width="1.05"/>
<circle cx="188.20" cy="410.61" r="1.62" fill="#e3193b" stroke="#000" stroke-width="1.05"/>
<circle cx="187.30" cy="421.47" r="1.62" fill="#e3193b" stroke="#000" stroke-width="1.05"/>
<circle cx="188.10" cy="434.32" r="1.62" fill="#e3193b" stroke="#000" stroke-width="1.05"/>
<circle cx="190.30" cy="434.84" r="1.62" fill="#e3193b" stroke="#000" stroke-width="1.05"/>
<circle cx="182.40" cy="437.55" r="1.62" fill="#e3193b" stroke="#000" stroke-width="1.05"/>
<circle cx="188.10" cy="438.39" r="1.62" fill="#e3193b" stroke="#000" stroke-width="1.05"/>
<circle cx="191.80" cy="438.49" r="1.62" fill="#e3193b" stroke="#000" stroke-width="1.05"/>
<circle cx="179.90" cy="441.73" r="1.62" fill="#e3193b" stroke="#000" stroke-width="1.05"/>
<circle cx="182.40" cy="441.00" r="1.62" fill="#e3193b" stroke="#000" stroke-width="1.05"/>
<circle cx="185.30" cy="440.48" r="1.62" fill="#e3193b" stroke="#000" stroke-width="1.05"/>
<circle cx="193.90" cy="440.69" r="1.62" fill="#e3193b" stroke="#000" stroke-width="1.05"/>
<circle cx="183.80" cy="444.34" r="1.62" fill="#e3193b" stroke="#000" stroke-width="1.05"/>
<circle cx="185.90" cy="444.13" r="1.62" fill="#e3193b" stroke="#000" stroke-width="1.05"/>
<circle cx="188.20" cy="442.78" r="1.62" fill="#e3193b" stroke="#000" stroke-width="1.05"/>
<circle cx="191.00" cy="442.46" r="1.62" fill="#e3193b" stroke="#000" stroke-width="1.05"/>
<circle cx="180.10" cy="445.49" r="1.62" fill="#e3193b" stroke="#000" stroke-width="1.05"/>
<circle cx="193.90" cy="444.65" r="1.62" fill="#e3193b" stroke="#000" stroke-width="1.05"/>
<circle cx="187.60" cy="446.53" r="1.62" fill="#e3193b" stroke="#000" stroke-width="1.05"/>
<circle cx="190.00" cy="446.85" r="1.62" fill="#e3193b" stroke="#000" stroke-width="1.05"/>
<circle cx="184.10" cy="449.46" r="1.62" fill="#e3193b" stroke="#000" stroke-width="1.05"/>
<line x1="205.40" y1="445.10" x2="221.80" y2="445.10" stroke="#3c3c3c" stroke-width="1.25" />
<line x1="209.40" y1="443.00" x2="217.80" y2="443.00" stroke="#222" stroke-width="1.0" />
<line x1="209.40" y1="447.20" x2="217.80" y2="447.20" stroke="#222" stroke-width="1.0" />
<line x1="213.60" y1="443.00" x2="213.60" y2="447.20" stroke="#222" stroke-width="1.0" />
<line x1="231.10" y1="449.30" x2="247.50" y2="449.30" stroke="#3c3c3c" stroke-width="1.25" />
<line x1="235.10" y1="446.50" x2="243.50" y2="446.50" stroke="#222" stroke-width="1.0" />
<line x1="235.10" y1="452.10" x2="243.50" y2="452.10" stroke="#222" stroke-width="1.0" />
<line x1="239.30" y1="446.50" x2="239.30" y2="452.10" stroke="#222" stroke-width="1.0" />
<circle cx="211.00" cy="434.80" r="1.62" fill="#0c58a0" stroke="#000" stroke-width="1.05"/>
<circle cx="215.90" cy="434.80" r="1.62" fill="#0c58a0" stroke="#000" stroke-width="1.05"/>
<circle cx="206.30" cy="439.60" r="1.62" fill="#0c58a0" stroke="#000" stroke-width="1.05"/>
<circle cx="215.90" cy="438.40" r="1.62" fill="#0c58a0" stroke="#000" stroke-width="1.05"/>
<circle cx="220.60" cy="441.00" r="1.62" fill="#0c58a0" stroke="#000" stroke-width="1.05"/>
<circle cx="211.00" cy="442.30" r="1.62" fill="#0c58a0" stroke="#000" stroke-width="1.05"/>
<circle cx="215.90" cy="443.40" r="1.62" fill="#0c58a0" stroke="#000" stroke-width="1.05"/>
<circle cx="215.90" cy="449.30" r="1.62" fill="#0c58a0" stroke="#000" stroke-width="1.05"/>
<circle cx="206.30" cy="451.10" r="1.62" fill="#0c58a0" stroke="#000" stroke-width="1.05"/>
<circle cx="211.00" cy="451.70" r="1.62" fill="#0c58a0" stroke="#000" stroke-width="1.05"/>
<circle cx="220.60" cy="451.10" r="1.62" fill="#0c58a0" stroke="#000" stroke-width="1.05"/>
<circle cx="215.90" cy="453.20" r="1.62" fill="#0c58a0" stroke="#000" stroke-width="1.05"/>
<circle cx="213.60" cy="458.10" r="1.62" fill="#0c58a0" stroke="#000" stroke-width="1.05"/>
<circle cx="242.10" cy="438.40" r="1.62" fill="#33dd44" stroke="#000" stroke-width="1.05"/>
<circle cx="237.50" cy="440.30" r="1.62" fill="#33dd44" stroke="#000" stroke-width="1.05"/>
<circle cx="237.50" cy="444.10" r="1.62" fill="#33dd44" stroke="#000" stroke-width="1.05"/>
<circle cx="232.80" cy="446.90" r="1.62" fill="#33dd44" stroke="#000" stroke-width="1.05"/>
<circle cx="246.60" cy="446.40" r="1.62" fill="#33dd44" stroke="#000" stroke-width="1.05"/>
<circle cx="237.30" cy="448.80" r="1.62" fill="#33dd44" stroke="#000" stroke-width="1.05"/>
<circle cx="242.10" cy="448.00" r="1.62" fill="#33dd44" stroke="#000" stroke-width="1.05"/>
<circle cx="232.80" cy="458.30" r="1.62" fill="#33dd44" stroke="#000" stroke-width="1.05"/>
<circle cx="242.10" cy="458.60" r="1.62" fill="#33dd44" stroke="#000" stroke-width="1.05"/>
<circle cx="246.60" cy="455.50" r="1.62" fill="#33dd44" stroke="#000" stroke-width="1.05"/>
<circle cx="237.30" cy="461.70" r="1.62" fill="#33dd44" stroke="#000" stroke-width="1.05"/>
<text x="265.95" y="351.00" font-size="11.2" text-anchor="start" font-weight="normal" fill="#000" style="stroke:#000;stroke-width:0.6px" textLength="8.3" lengthAdjust="spacingAndGlyphs">K</text>
<circle cx="298.25" cy="355.00" r="2.1" fill="#0c58a0" stroke="#000" stroke-width="1.05"/>
<circle cx="298.25" cy="363.00" r="2.1" fill="#33dd44" stroke="#000" stroke-width="1.05"/>
<text x="302.20" y="357.30" font-size="7.05" text-anchor="start" font-weight="normal" fill="#111" >Normal/High IgA</text>
<text x="302.20" y="365.30" font-size="7.05" text-anchor="start" font-weight="normal" fill="#111" >Low IgA</text>
<line x1="299.40" y1="378.80" x2="299.40" y2="394.30" stroke="#000" stroke-width="1.2" />
<line x1="299.40" y1="400.40" x2="299.40" y2="462.20" stroke="#000" stroke-width="1.2" />
<line x1="298.80" y1="462.20" x2="387.00" y2="462.20" stroke="#000" stroke-width="1.2" />
<line x1="296.00" y1="379.30" x2="299.40" y2="379.30" stroke="#000" stroke-width="1.0" />
<text x="292.90" y="381.70" font-size="8.4" text-anchor="end" fill="#222" textLength="8.20" lengthAdjust="spacingAndGlyphs">30</text>
<line x1="296.00" y1="389.30" x2="299.40" y2="389.30" stroke="#000" stroke-width="1.0" />
<text x="292.90" y="391.70" font-size="8.4" text-anchor="end" fill="#222" textLength="8.20" lengthAdjust="spacingAndGlyphs">20</text>
<line x1="296.00" y1="400.90" x2="299.40" y2="400.90" stroke="#000" stroke-width="1.0" />
<text x="292.90" y="403.30" font-size="8.4" text-anchor="end" fill="#222" textLength="8.20" lengthAdjust="spacingAndGlyphs">10</text>
<line x1="296.00" y1="431.55" x2="299.40" y2="431.55" stroke="#000" stroke-width="1.0" />
<text x="292.90" y="433.95" font-size="8.4" text-anchor="end" fill="#222" textLength="4.10" lengthAdjust="spacingAndGlyphs">5</text>
<line x1="296.00" y1="462.20" x2="299.40" y2="462.20" stroke="#000" stroke-width="1.0" />
<text x="292.90" y="464.60" font-size="8.4" text-anchor="end" fill="#222" textLength="4.10" lengthAdjust="spacingAndGlyphs">0</text>
<line x1="297.40" y1="394.30" x2="301.40" y2="394.30" stroke="#000" stroke-width="0.9" />
<line x1="297.40" y1="400.90" x2="301.40" y2="400.90" stroke="#000" stroke-width="0.9" />
<line x1="315.90" y1="462.20" x2="315.90" y2="465.20" stroke="#000" stroke-width="0.9" />
<line x1="341.90" y1="462.20" x2="341.90" y2="465.20" stroke="#000" stroke-width="0.9" />
<line x1="367.60" y1="462.20" x2="367.60" y2="465.20" stroke="#000" stroke-width="0.9" />
<text transform="translate(320.10,472.20) rotate(-45)" font-size="8.6" text-anchor="end" fill="#222">HC</text>
<text transform="translate(345.70,471.50) rotate(-45)" font-size="8.0" text-anchor="end" fill="#222">pES<tspan font-size="4.4" dy="-3.0" fill="#333" textLength="9.5" lengthAdjust="spacingAndGlyphs">N/H IgA</tspan></text>
<text transform="translate(371.40,471.50) rotate(-45)" font-size="8.0" text-anchor="end" fill="#222">pES<tspan font-size="4.4" dy="-3.0" fill="#333" textLength="9.5" lengthAdjust="spacingAndGlyphs">L IgA</tspan></text>
<text transform="translate(270.10,422.20) rotate(-90)" font-size="8.8" text-anchor="middle" fill="#333" textLength="58.0" lengthAdjust="spacingAndGlyphs">% HLA-DR<tspan font-size="6" dy="-2.6">+</tspan><tspan dy="2.6">CD38</tspan><tspan font-size="6" dy="-2.6">+</tspan><tspan dy="2.6"></tspan></text>
<text transform="translate(278.50,422.20) rotate(-90)" font-size="8.8" text-anchor="middle" fill="#333" textLength="69.2" lengthAdjust="spacingAndGlyphs">(Gated on EM CD4<tspan font-size="6" dy="-2.6">+</tspan><tspan dy="2.6">)</tspan></text>
<line x1="342.90" y1="380.40" x2="367.40" y2="380.40" stroke="#222" stroke-width="1.1" />
<text x="355.15" y="378.70" font-size="6.8" text-anchor="middle" font-weight="normal" fill="#222" >ns</text>
<circle cx="316.10" cy="438.01" r="1.62" fill="#e3193b" stroke="#000" stroke-width="1.05"/>
<circle cx="316.10" cy="447.23" r="1.62" fill="#e3193b" stroke="#000" stroke-width="1.05"/>
<circle cx="315.50" cy="450.00" r="1.62" fill="#e3193b" stroke="#000" stroke-width="1.05"/>
<circle cx="317.00" cy="451.23" r="1.62" fill="#e3193b" stroke="#000" stroke-width="1.05"/>
<circle cx="315.50" cy="452.56" r="1.62" fill="#e3193b" stroke="#000" stroke-width="1.05"/>
<circle cx="309.20" cy="456.46" r="1.62" fill="#e3193b" stroke="#000" stroke-width="1.05"/>
<circle cx="311.90" cy="456.46" r="1.62" fill="#e3193b" stroke="#000" stroke-width="1.05"/>
<circle cx="314.90" cy="455.84" r="1.62" fill="#e3193b" stroke="#000" stroke-width="1.05"/>
<circle cx="317.60" cy="455.23" r="1.62" fill="#e3193b" stroke="#000" stroke-width="1.05"/>
<circle cx="320.20" cy="455.54" r="1.62" fill="#e3193b" stroke="#000" stroke-width="1.05"/>
<circle cx="323.00" cy="456.46" r="1.62" fill="#e3193b" stroke="#000" stroke-width="1.05"/>
<circle cx="311.00" cy="458.61" r="1.62" fill="#e3193b" stroke="#000" stroke-width="1.05"/>
<circle cx="314.90" cy="457.69" r="1.62" fill="#e3193b" stroke="#000" stroke-width="1.05"/>
<circle cx="318.20" cy="457.07" r="1.62" fill="#e3193b" stroke="#000" stroke-width="1.05"/>
<circle cx="321.20" cy="458.61" r="1.62" fill="#e3193b" stroke="#000" stroke-width="1.05"/>
<circle cx="312.20" cy="460.35" r="1.62" fill="#e3193b" stroke="#000" stroke-width="1.05"/>
<circle cx="314.90" cy="460.05" r="1.62" fill="#e3193b" stroke="#000" stroke-width="1.05"/>
<circle cx="317.90" cy="460.35" r="1.62" fill="#e3193b" stroke="#000" stroke-width="1.05"/>
<circle cx="320.60" cy="460.35" r="1.62" fill="#e3193b" stroke="#000" stroke-width="1.05"/>
<circle cx="317.60" cy="461.89" r="1.62" fill="#e3193b" stroke="#000" stroke-width="1.05"/>
<line x1="333.70" y1="425.10" x2="350.10" y2="425.10" stroke="#3c3c3c" stroke-width="1.25" />
<line x1="337.70" y1="417.50" x2="346.10" y2="417.50" stroke="#222" stroke-width="1.0" />
<line x1="337.70" y1="432.00" x2="346.10" y2="432.00" stroke="#222" stroke-width="1.0" />
<line x1="341.90" y1="417.50" x2="341.90" y2="432.00" stroke="#222" stroke-width="1.0" />
<line x1="359.40" y1="433.10" x2="375.80" y2="433.10" stroke="#3c3c3c" stroke-width="1.25" />
<line x1="363.40" y1="427.60" x2="371.80" y2="427.60" stroke="#222" stroke-width="1.0" />
<line x1="363.40" y1="438.50" x2="371.80" y2="438.50" stroke="#222" stroke-width="1.0" />
<line x1="367.60" y1="427.60" x2="367.60" y2="438.50" stroke="#222" stroke-width="1.0" />
<circle cx="341.90" cy="389.50" r="1.62" fill="#0c58a0" stroke="#000" stroke-width="1.05"/>
<circle cx="341.90" cy="413.00" r="1.62" fill="#0c58a0" stroke="#000" stroke-width="1.05"/>
<circle cx="339.70" cy="421.90" r="1.62" fill="#0c58a0" stroke="#000" stroke-width="1.05"/>
<circle cx="344.40" cy="421.70" r="1.62" fill="#0c58a0" stroke="#000" stroke-width="1.05"/>
<circle cx="335.20" cy="431.00" r="1.62" fill="#0c58a0" stroke="#000" stroke-width="1.05"/>
<circle cx="339.70" cy="431.00" r="1.62" fill="#0c58a0" stroke="#000" stroke-width="1.05"/>
<circle cx="344.40" cy="431.00" r="1.62" fill="#0c58a0" stroke="#000" stroke-width="1.05"/>
<circle cx="349.00" cy="432.80" r="1.62" fill="#0c58a0" stroke="#000" stroke-width="1.05"/>
<circle cx="344.10" cy="434.00" r="1.62" fill="#0c58a0" stroke="#000" stroke-width="1.05"/>
<circle cx="339.70" cy="437.70" r="1.62" fill="#0c58a0" stroke="#000" stroke-width="1.05"/>
<circle cx="344.10" cy="440.40" r="1.62" fill="#0c58a0" stroke="#000" stroke-width="1.05"/>
<circle cx="349.00" cy="437.30" r="1.62" fill="#0c58a0" stroke="#000" stroke-width="1.05"/>
<circle cx="341.90" cy="453.30" r="1.62" fill="#0c58a0" stroke="#000" stroke-width="1.05"/>
<circle cx="367.60" cy="411.30" r="1.62" fill="#33dd44" stroke="#000" stroke-width="1.05"/>
<circle cx="360.70" cy="420.90" r="1.62" fill="#33dd44" stroke="#000" stroke-width="1.05"/>
<circle cx="367.60" cy="422.20" r="1.62" fill="#33dd44" stroke="#000" stroke-width="1.05"/>
<circle cx="360.70" cy="429.50" r="1.62" fill="#33dd44" stroke="#000" stroke-width="1.05"/>
<circle cx="367.60" cy="430.30" r="1.62" fill="#33dd44" stroke="#000" stroke-width="1.05"/>
<circle cx="374.60" cy="430.10" r="1.62" fill="#33dd44" stroke="#000" stroke-width="1.05"/>
<circle cx="367.60" cy="441.50" r="1.62" fill="#33dd44" stroke="#000" stroke-width="1.05"/>
<circle cx="367.60" cy="451.60" r="1.62" fill="#33dd44" stroke="#000" stroke-width="1.05"/>
<circle cx="367.60" cy="460.80" r="1.62" fill="#33dd44" stroke="#000" stroke-width="1.05"/>
<text x="400.45" y="351.25" font-size="11.2" text-anchor="start" font-weight="normal" fill="#000" style="stroke:#000;stroke-width:0.6px" textLength="6.0" lengthAdjust="spacingAndGlyphs">L</text>
<circle cx="424.50" cy="355.75" r="2.1" fill="#0c58a0" stroke="#000" stroke-width="1.05"/>
<circle cx="424.50" cy="363.75" r="2.1" fill="#33dd44" stroke="#000" stroke-width="1.05"/>
<text x="427.95" y="358.05" font-size="7.05" text-anchor="start" font-weight="normal" fill="#111" >Normal/High IgA</text>
<text x="427.95" y="366.05" font-size="7.05" text-anchor="start" font-weight="normal" fill="#111" >Low IgA</text>
<line x1="426.10" y1="380.80" x2="426.10" y2="419.00" stroke="#000" stroke-width="1.2" />
<line x1="426.10" y1="424.70" x2="426.10" y2="462.60" stroke="#000" stroke-width="1.2" />
<line x1="425.50" y1="462.60" x2="509.40" y2="462.60" stroke="#000" stroke-width="1.2" />
<line x1="422.70" y1="381.30" x2="426.10" y2="381.30" stroke="#000" stroke-width="1.0" />
<text x="418.00" y="383.70" font-size="8.4" text-anchor="end" fill="#222" textLength="4.10" lengthAdjust="spacingAndGlyphs">8</text>
<line x1="422.70" y1="403.40" x2="426.10" y2="403.40" stroke="#000" stroke-width="1.0" />
<text x="418.00" y="405.80" font-size="8.4" text-anchor="end" fill="#222" textLength="4.10" lengthAdjust="spacingAndGlyphs">4</text>
<line x1="422.70" y1="425.20" x2="426.10" y2="425.20" stroke="#000" stroke-width="1.0" />
<text x="418.00" y="427.60" font-size="8.4" text-anchor="end" fill="#222" textLength="4.10" lengthAdjust="spacingAndGlyphs">1</text>
<line x1="422.70" y1="462.60" x2="426.10" y2="462.60" stroke="#000" stroke-width="1.0" />
<text x="418.00" y="465.00" font-size="8.4" text-anchor="end" fill="#222" textLength="4.10" lengthAdjust="spacingAndGlyphs">0</text>
<line x1="424.10" y1="419.00" x2="428.10" y2="419.00" stroke="#000" stroke-width="0.9" />
<line x1="424.10" y1="425.20" x2="428.10" y2="425.20" stroke="#000" stroke-width="0.9" />
<line x1="442.50" y1="462.60" x2="442.50" y2="465.60" stroke="#000" stroke-width="0.9" />
<line x1="467.60" y1="462.60" x2="467.60" y2="465.60" stroke="#000" stroke-width="0.9" />
<line x1="492.30" y1="462.60" x2="492.30" y2="465.60" stroke="#000" stroke-width="0.9" />
<text transform="translate(446.70,472.60) rotate(-45)" font-size="8.6" text-anchor="end" fill="#222">HC</text>
<text transform="translate(471.40,471.90) rotate(-45)" font-size="8.0" text-anchor="end" fill="#222">pES<tspan font-size="4.4" dy="-3.0" fill="#333" textLength="9.5" lengthAdjust="spacingAndGlyphs">N/H IgA</tspan></text>
<text transform="translate(496.10,471.90) rotate(-45)" font-size="8.0" text-anchor="end" fill="#222">pES<tspan font-size="4.4" dy="-3.0" fill="#333" textLength="9.5" lengthAdjust="spacingAndGlyphs">L IgA</tspan></text>
<text transform="translate(409.60,419.10) rotate(-90)" font-size="8.8" text-anchor="middle" fill="#333" textLength="79.2" lengthAdjust="spacingAndGlyphs">% CD19<tspan font-size="6" dy="-2.6">+</tspan><tspan dy="2.6">CD27</tspan><tspan font-size="6" dy="-2.6">+</tspan><tspan dy="2.6">IgM</tspan><tspan font-size="6" dy="-2.6">&#8722;</tspan><tspan dy="2.6">IgD</tspan><tspan font-size="6" dy="-2.6">&#8722;</tspan><tspan dy="2.6"></tspan></text>
<line x1="470.00" y1="382.20" x2="495.60" y2="382.20" stroke="#222" stroke-width="1.1" />
<text x="483.60" y="382.60" font-size="8" text-anchor="middle" font-weight="normal" fill="#222" >*</text>
<circle cx="442.70" cy="382.92" r="1.62" fill="#e3193b" stroke="#000" stroke-width="1.05"/>
<circle cx="442.70" cy="392.96" r="1.62" fill="#e3193b" stroke="#000" stroke-width="1.05"/>
<circle cx="444.90" cy="399.75" r="1.62" fill="#e3193b" stroke="#000" stroke-width="1.05"/>
<circle cx="442.50" cy="402.18" r="1.62" fill="#e3193b" stroke="#000" stroke-width="1.05"/>
<circle cx="444.90" cy="405.22" r="1.62" fill="#e3193b" stroke="#000" stroke-width="1.05"/>
<circle cx="435.70" cy="407.35" r="1.62" fill="#e3193b" stroke="#000" stroke-width="1.05"/>
<circle cx="440.40" cy="408.67" r="1.62" fill="#e3193b" stroke="#000" stroke-width="1.05"/>
<circle cx="444.90" cy="408.67" r="1.62" fill="#e3193b" stroke="#000" stroke-width="1.05"/>
<circle cx="435.70" cy="411.31" r="1.62" fill="#e3193b" stroke="#000" stroke-width="1.05"/>
<circle cx="438.20" cy="410.50" r="1.62" fill="#e3193b" stroke="#000" stroke-width="1.05"/>
<circle cx="442.70" cy="411.71" r="1.62" fill="#e3193b" stroke="#000" stroke-width="1.05"/>
<circle cx="447.20" cy="411.00" r="1.62" fill="#e3193b" stroke="#000" stroke-width="1.05"/>
<circle cx="449.90" cy="410.50" r="1.62" fill="#e3193b" stroke="#000" stroke-width="1.05"/>
<circle cx="440.00" cy="412.83" r="1.62" fill="#e3193b" stroke="#000" stroke-width="1.05"/>
<circle cx="447.20" cy="414.15" r="1.62" fill="#e3193b" stroke="#000" stroke-width="1.05"/>
<circle cx="449.90" cy="415.06" r="1.62" fill="#e3193b" stroke="#000" stroke-width="1.05"/>
<circle cx="435.50" cy="418.30" r="1.62" fill="#e3193b" stroke="#000" stroke-width="1.05"/>
<circle cx="438.20" cy="417.39" r="1.62" fill="#e3193b" stroke="#000" stroke-width="1.05"/>
<circle cx="440.40" cy="418.71" r="1.62" fill="#e3193b" stroke="#000" stroke-width="1.05"/>
<circle cx="442.70" cy="417.80" r="1.62" fill="#e3193b" stroke="#000" stroke-width="1.05"/>
<circle cx="444.90" cy="416.48" r="1.62" fill="#e3193b" stroke="#000" stroke-width="1.05"/>
<circle cx="447.20" cy="417.80" r="1.62" fill="#e3193b" stroke="#000" stroke-width="1.05"/>
<circle cx="444.90" cy="419.82" r="1.62" fill="#e3193b" stroke="#000" stroke-width="1.05"/>
<circle cx="449.90" cy="419.21" r="1.62" fill="#e3193b" stroke="#000" stroke-width="1.05"/>
<line x1="459.40" y1="436.40" x2="475.80" y2="436.40" stroke="#3c3c3c" stroke-width="1.25" />
<line x1="463.40" y1="432.00" x2="471.80" y2="432.00" stroke="#222" stroke-width="1.0" />
<line x1="463.40" y1="441.60" x2="471.80" y2="441.60" stroke="#222" stroke-width="1.0" />
<line x1="467.60" y1="432.00" x2="467.60" y2="441.60" stroke="#222" stroke-width="1.0" />
<line x1="484.10" y1="451.00" x2="500.50" y2="451.00" stroke="#3c3c3c" stroke-width="1.25" />
<line x1="488.10" y1="448.00" x2="496.50" y2="448.00" stroke="#222" stroke-width="1.0" />
<line x1="488.10" y1="453.70" x2="496.50" y2="453.70" stroke="#222" stroke-width="1.0" />
<line x1="492.30" y1="448.00" x2="492.30" y2="453.70" stroke="#222" stroke-width="1.0" />
<circle cx="460.70" cy="415.20" r="1.62" fill="#0c58a0" stroke="#000" stroke-width="1.05"/>
<circle cx="465.30" cy="418.20" r="1.62" fill="#0c58a0" stroke="#000" stroke-width="1.05"/>
<circle cx="469.90" cy="417.00" r="1.62" fill="#0c58a0" stroke="#000" stroke-width="1.05"/>
<circle cx="465.30" cy="429.40" r="1.62" fill="#0c58a0" stroke="#000" stroke-width="1.05"/>
<circle cx="469.90" cy="432.70" r="1.62" fill="#0c58a0" stroke="#000" stroke-width="1.05"/>
<circle cx="465.30" cy="434.60" r="1.62" fill="#0c58a0" stroke="#000" stroke-width="1.05"/>
<circle cx="460.70" cy="447.90" r="1.62" fill="#0c58a0" stroke="#000" stroke-width="1.05"/>
<circle cx="465.30" cy="446.00" r="1.62" fill="#0c58a0" stroke="#000" stroke-width="1.05"/>
<circle cx="469.90" cy="445.00" r="1.62" fill="#0c58a0" stroke="#000" stroke-width="1.05"/>
<circle cx="474.60" cy="447.90" r="1.62" fill="#0c58a0" stroke="#000" stroke-width="1.05"/>
<circle cx="465.30" cy="449.10" r="1.62" fill="#0c58a0" stroke="#000" stroke-width="1.05"/>
<circle cx="469.90" cy="449.40" r="1.62" fill="#0c58a0" stroke="#000" stroke-width="1.05"/>
<circle cx="467.60" cy="462.20" r="1.62" fill="#0c58a0" stroke="#000" stroke-width="1.05"/>
<circle cx="488.80" cy="437.90" r="1.62" fill="#33dd44" stroke="#000" stroke-width="1.05"/>
<circle cx="495.80" cy="436.70" r="1.62" fill="#33dd44" stroke="#000" stroke-width="1.05"/>
<circle cx="492.30" cy="441.30" r="1.62" fill="#33dd44" stroke="#000" stroke-width="1.05"/>
<circle cx="485.60" cy="446.00" r="1.62" fill="#33dd44" stroke="#000" stroke-width="1.05"/>
<circle cx="492.30" cy="448.50" r="1.62" fill="#33dd44" stroke="#000" stroke-width="1.05"/>
<circle cx="492.30" cy="452.60" r="1.62" fill="#33dd44" stroke="#000" stroke-width="1.05"/>
<circle cx="492.30" cy="456.00" r="1.62" fill="#33dd44" stroke="#000" stroke-width="1.05"/>
<circle cx="492.30" cy="460.10" r="1.62" fill="#33dd44" stroke="#000" stroke-width="1.05"/>
<circle cx="498.90" cy="457.50" r="1.62" fill="#33dd44" stroke="#000" stroke-width="1.05"/>
<circle cx="498.90" cy="461.50" r="1.62" fill="#33dd44" stroke="#000" stroke-width="1.05"/>
<circle cx="485.60" cy="462.20" r="1.62" fill="#33dd44" stroke="#000" stroke-width="1.05"/>
<rect x="0.5" y="0.5" width="519" height="500" fill="none" stroke="#000" stroke-width="1"/>
</svg></body></html>
